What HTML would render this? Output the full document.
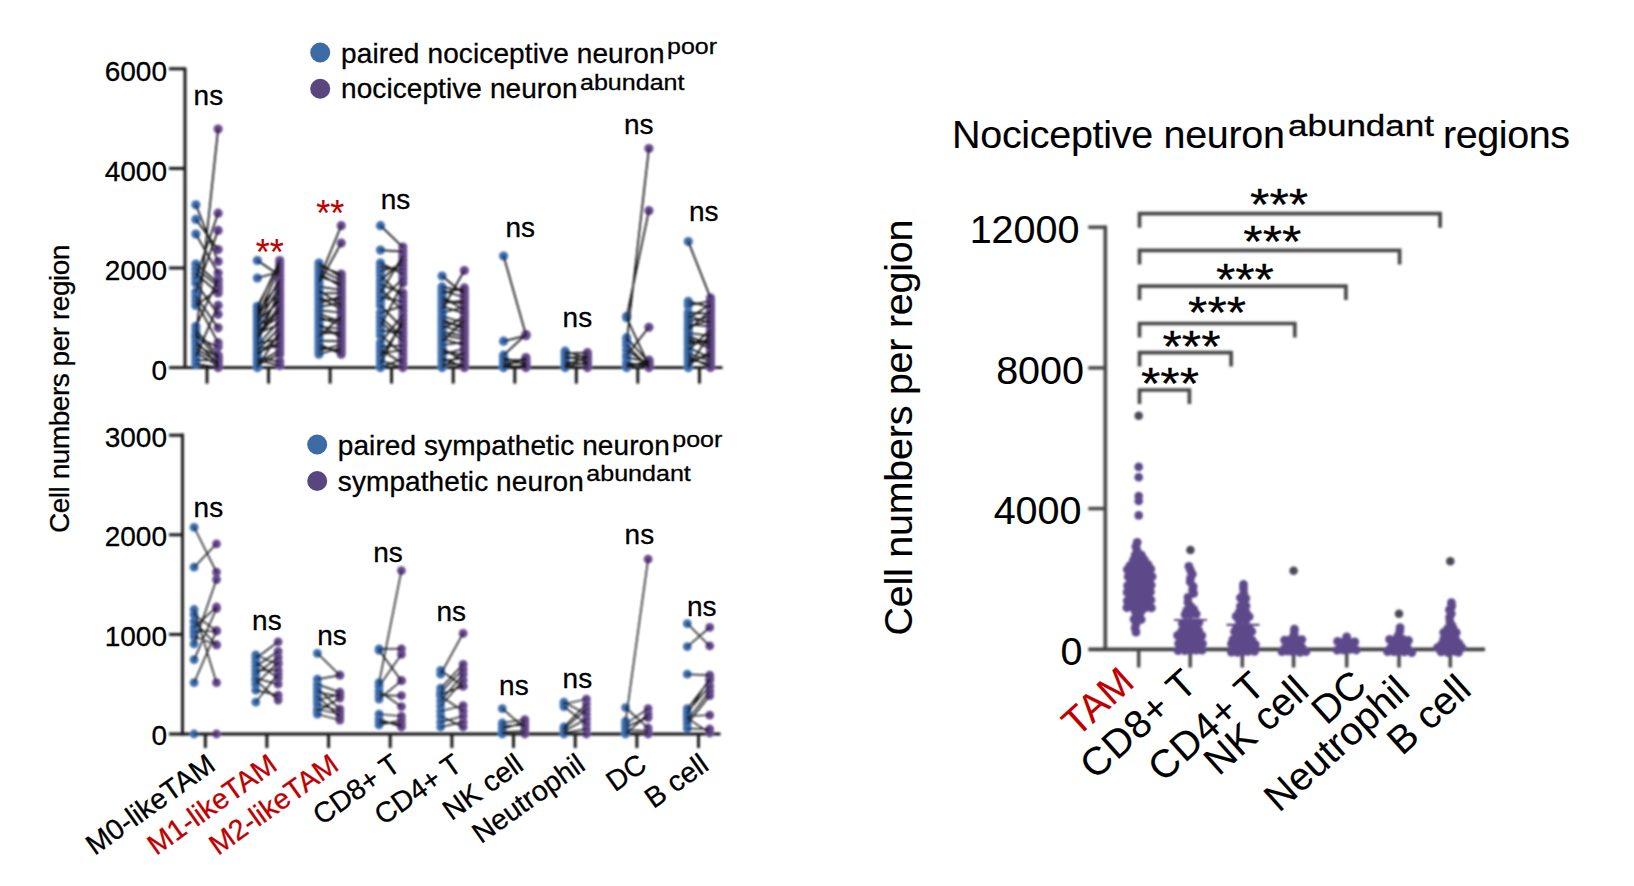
<!DOCTYPE html>
<html lang="en"><head><meta charset="utf-8"><title>Cell numbers per region</title>
<style>
html,body{margin:0;padding:0;background:#fff}
body{width:1634px;height:886px;overflow:hidden;font-family:"Liberation Sans",Arial,sans-serif}
svg{display:block}
</style></head><body>
<svg width="1634" height="886" viewBox="0 0 1634 886" font-family="Liberation Sans, Arial, sans-serif">
<defs><filter id="soft" x="0" y="0" width="100%" height="100%" filterUnits="userSpaceOnUse"><feGaussianBlur stdDeviation="0.8"/></filter></defs>
<rect width="1634" height="886" fill="#fff"/>
<g id="plots" filter="url(#soft)">
<path d="M185 67.5V369.1" stroke="#141414" stroke-width="2.9" fill="none"/>
<path d="M169 367.6H722.5" stroke="#141414" stroke-width="2.9" fill="none"/>
<path d="M169 268.0H185" stroke="#141414" stroke-width="2.9"/>
<path d="M169 168.4H185" stroke="#141414" stroke-width="2.9"/>
<path d="M169 68.8H185" stroke="#141414" stroke-width="2.9"/>
<path d="M207.0 367.6V383.6" stroke="#141414" stroke-width="2.9"/>
<path d="M268.6 367.6V383.6" stroke="#141414" stroke-width="2.9"/>
<path d="M330.1 367.6V383.6" stroke="#141414" stroke-width="2.9"/>
<path d="M391.6 367.6V383.6" stroke="#141414" stroke-width="2.9"/>
<path d="M453.2 367.6V383.6" stroke="#141414" stroke-width="2.9"/>
<path d="M514.8 367.6V383.6" stroke="#141414" stroke-width="2.9"/>
<path d="M576.3 367.6V383.6" stroke="#141414" stroke-width="2.9"/>
<path d="M637.8 367.6V383.6" stroke="#141414" stroke-width="2.9"/>
<path d="M699.4 367.6V383.6" stroke="#141414" stroke-width="2.9"/>
<circle cx="195.9" cy="204.8" r="4.6" fill="#3f6fb0"/>
<circle cx="218.1" cy="261.5" r="4.6" fill="#674c8f"/>
<circle cx="195.9" cy="219.4" r="4.6" fill="#3f6fb0"/>
<circle cx="218.1" cy="249.6" r="4.6" fill="#674c8f"/>
<circle cx="195.9" cy="234.1" r="4.6" fill="#3f6fb0"/>
<circle cx="218.1" cy="273.0" r="4.6" fill="#674c8f"/>
<circle cx="195.9" cy="264.0" r="4.6" fill="#3f6fb0"/>
<circle cx="218.1" cy="282.8" r="4.6" fill="#674c8f"/>
<circle cx="195.9" cy="268.7" r="4.6" fill="#3f6fb0"/>
<circle cx="218.1" cy="286.2" r="4.6" fill="#674c8f"/>
<circle cx="195.9" cy="273.5" r="4.6" fill="#3f6fb0"/>
<circle cx="218.1" cy="292.9" r="4.6" fill="#674c8f"/>
<circle cx="195.9" cy="278.2" r="4.6" fill="#3f6fb0"/>
<circle cx="218.1" cy="213.2" r="4.6" fill="#674c8f"/>
<circle cx="195.9" cy="282.9" r="4.6" fill="#3f6fb0"/>
<circle cx="218.1" cy="314.3" r="4.6" fill="#674c8f"/>
<circle cx="195.9" cy="291.9" r="4.6" fill="#3f6fb0"/>
<circle cx="218.1" cy="230.4" r="4.6" fill="#674c8f"/>
<circle cx="195.9" cy="296.4" r="4.6" fill="#3f6fb0"/>
<circle cx="218.1" cy="327.8" r="4.6" fill="#674c8f"/>
<circle cx="195.9" cy="300.9" r="4.6" fill="#3f6fb0"/>
<circle cx="218.1" cy="342.7" r="4.6" fill="#674c8f"/>
<circle cx="195.9" cy="305.4" r="4.6" fill="#3f6fb0"/>
<circle cx="218.1" cy="289.5" r="4.6" fill="#674c8f"/>
<circle cx="195.9" cy="326.3" r="4.6" fill="#3f6fb0"/>
<circle cx="218.1" cy="279.5" r="4.6" fill="#674c8f"/>
<circle cx="195.9" cy="330.0" r="4.6" fill="#3f6fb0"/>
<circle cx="218.1" cy="355.2" r="4.6" fill="#674c8f"/>
<circle cx="195.9" cy="333.8" r="4.6" fill="#3f6fb0"/>
<circle cx="218.1" cy="358.7" r="4.6" fill="#674c8f"/>
<circle cx="195.9" cy="337.5" r="4.6" fill="#3f6fb0"/>
<circle cx="218.1" cy="346.7" r="4.6" fill="#674c8f"/>
<circle cx="195.9" cy="341.3" r="4.6" fill="#3f6fb0"/>
<circle cx="218.1" cy="364.0" r="4.6" fill="#674c8f"/>
<circle cx="195.9" cy="345.1" r="4.6" fill="#3f6fb0"/>
<circle cx="218.1" cy="356.9" r="4.6" fill="#674c8f"/>
<circle cx="195.9" cy="348.8" r="4.6" fill="#3f6fb0"/>
<circle cx="218.1" cy="362.3" r="4.6" fill="#674c8f"/>
<circle cx="195.9" cy="352.6" r="4.6" fill="#3f6fb0"/>
<circle cx="218.1" cy="365.8" r="4.6" fill="#674c8f"/>
<circle cx="195.9" cy="356.3" r="4.6" fill="#3f6fb0"/>
<circle cx="218.1" cy="305.4" r="4.6" fill="#674c8f"/>
<circle cx="195.9" cy="360.1" r="4.6" fill="#3f6fb0"/>
<circle cx="218.1" cy="360.5" r="4.6" fill="#674c8f"/>
<circle cx="195.9" cy="363.8" r="4.6" fill="#3f6fb0"/>
<circle cx="218.1" cy="367.6" r="4.6" fill="#674c8f"/>
<circle cx="195.9" cy="336.7" r="4.6" fill="#3f6fb0"/>
<circle cx="218.1" cy="129.1" r="4.6" fill="#674c8f"/>
<circle cx="257.4" cy="260.5" r="4.6" fill="#3f6fb0"/>
<circle cx="279.7" cy="275.5" r="4.6" fill="#674c8f"/>
<circle cx="257.4" cy="278.0" r="4.6" fill="#3f6fb0"/>
<circle cx="279.7" cy="271.8" r="4.6" fill="#674c8f"/>
<circle cx="257.4" cy="306.3" r="4.6" fill="#3f6fb0"/>
<circle cx="279.7" cy="264.3" r="4.6" fill="#674c8f"/>
<circle cx="257.4" cy="308.8" r="4.6" fill="#3f6fb0"/>
<circle cx="279.7" cy="260.5" r="4.6" fill="#674c8f"/>
<circle cx="257.4" cy="311.2" r="4.6" fill="#3f6fb0"/>
<circle cx="279.7" cy="283.0" r="4.6" fill="#674c8f"/>
<circle cx="257.4" cy="313.7" r="4.6" fill="#3f6fb0"/>
<circle cx="279.7" cy="294.2" r="4.6" fill="#674c8f"/>
<circle cx="257.4" cy="316.1" r="4.6" fill="#3f6fb0"/>
<circle cx="279.7" cy="268.0" r="4.6" fill="#674c8f"/>
<circle cx="257.4" cy="318.6" r="4.6" fill="#3f6fb0"/>
<circle cx="279.7" cy="279.3" r="4.6" fill="#674c8f"/>
<circle cx="257.4" cy="321.0" r="4.6" fill="#3f6fb0"/>
<circle cx="279.7" cy="301.7" r="4.6" fill="#674c8f"/>
<circle cx="257.4" cy="323.5" r="4.6" fill="#3f6fb0"/>
<circle cx="279.7" cy="286.7" r="4.6" fill="#674c8f"/>
<circle cx="257.4" cy="325.9" r="4.6" fill="#3f6fb0"/>
<circle cx="279.7" cy="313.0" r="4.6" fill="#674c8f"/>
<circle cx="257.4" cy="328.4" r="4.6" fill="#3f6fb0"/>
<circle cx="279.7" cy="298.0" r="4.6" fill="#674c8f"/>
<circle cx="257.4" cy="330.8" r="4.6" fill="#3f6fb0"/>
<circle cx="279.7" cy="316.7" r="4.6" fill="#674c8f"/>
<circle cx="257.4" cy="333.3" r="4.6" fill="#3f6fb0"/>
<circle cx="279.7" cy="324.2" r="4.6" fill="#674c8f"/>
<circle cx="257.4" cy="335.7" r="4.6" fill="#3f6fb0"/>
<circle cx="279.7" cy="305.5" r="4.6" fill="#674c8f"/>
<circle cx="257.4" cy="338.2" r="4.6" fill="#3f6fb0"/>
<circle cx="279.7" cy="309.2" r="4.6" fill="#674c8f"/>
<circle cx="257.4" cy="340.6" r="4.6" fill="#3f6fb0"/>
<circle cx="279.7" cy="290.5" r="4.6" fill="#674c8f"/>
<circle cx="257.4" cy="343.1" r="4.6" fill="#3f6fb0"/>
<circle cx="279.7" cy="339.2" r="4.6" fill="#674c8f"/>
<circle cx="257.4" cy="345.5" r="4.6" fill="#3f6fb0"/>
<circle cx="279.7" cy="320.4" r="4.6" fill="#674c8f"/>
<circle cx="257.4" cy="348.0" r="4.6" fill="#3f6fb0"/>
<circle cx="279.7" cy="346.7" r="4.6" fill="#674c8f"/>
<circle cx="257.4" cy="350.4" r="4.6" fill="#3f6fb0"/>
<circle cx="279.7" cy="327.9" r="4.6" fill="#674c8f"/>
<circle cx="257.4" cy="352.9" r="4.6" fill="#3f6fb0"/>
<circle cx="279.7" cy="342.9" r="4.6" fill="#674c8f"/>
<circle cx="257.4" cy="355.3" r="4.6" fill="#3f6fb0"/>
<circle cx="279.7" cy="335.4" r="4.6" fill="#674c8f"/>
<circle cx="257.4" cy="357.8" r="4.6" fill="#3f6fb0"/>
<circle cx="279.7" cy="361.6" r="4.6" fill="#674c8f"/>
<circle cx="257.4" cy="360.2" r="4.6" fill="#3f6fb0"/>
<circle cx="279.7" cy="365.6" r="4.6" fill="#674c8f"/>
<circle cx="257.4" cy="362.7" r="4.6" fill="#3f6fb0"/>
<circle cx="279.7" cy="350.4" r="4.6" fill="#674c8f"/>
<circle cx="257.4" cy="365.1" r="4.6" fill="#3f6fb0"/>
<circle cx="279.7" cy="354.2" r="4.6" fill="#674c8f"/>
<circle cx="257.4" cy="367.6" r="4.6" fill="#3f6fb0"/>
<circle cx="279.7" cy="331.7" r="4.6" fill="#674c8f"/>
<circle cx="319.0" cy="263.0" r="4.6" fill="#3f6fb0"/>
<circle cx="341.2" cy="277.2" r="4.6" fill="#674c8f"/>
<circle cx="319.0" cy="266.4" r="4.6" fill="#3f6fb0"/>
<circle cx="341.2" cy="274.0" r="4.6" fill="#674c8f"/>
<circle cx="319.0" cy="269.8" r="4.6" fill="#3f6fb0"/>
<circle cx="341.2" cy="280.4" r="4.6" fill="#674c8f"/>
<circle cx="319.0" cy="273.1" r="4.6" fill="#3f6fb0"/>
<circle cx="341.2" cy="286.8" r="4.6" fill="#674c8f"/>
<circle cx="319.0" cy="276.5" r="4.6" fill="#3f6fb0"/>
<circle cx="341.2" cy="283.6" r="4.6" fill="#674c8f"/>
<circle cx="319.0" cy="279.9" r="4.6" fill="#3f6fb0"/>
<circle cx="341.2" cy="225.7" r="4.6" fill="#674c8f"/>
<circle cx="319.0" cy="283.3" r="4.6" fill="#3f6fb0"/>
<circle cx="341.2" cy="243.1" r="4.6" fill="#674c8f"/>
<circle cx="319.0" cy="286.6" r="4.6" fill="#3f6fb0"/>
<circle cx="341.2" cy="290.0" r="4.6" fill="#674c8f"/>
<circle cx="319.0" cy="290.0" r="4.6" fill="#3f6fb0"/>
<circle cx="341.2" cy="306.0" r="4.6" fill="#674c8f"/>
<circle cx="319.0" cy="293.4" r="4.6" fill="#3f6fb0"/>
<circle cx="341.2" cy="293.2" r="4.6" fill="#674c8f"/>
<circle cx="319.0" cy="296.8" r="4.6" fill="#3f6fb0"/>
<circle cx="341.2" cy="309.3" r="4.6" fill="#674c8f"/>
<circle cx="319.0" cy="300.1" r="4.6" fill="#3f6fb0"/>
<circle cx="341.2" cy="299.6" r="4.6" fill="#674c8f"/>
<circle cx="319.0" cy="303.5" r="4.6" fill="#3f6fb0"/>
<circle cx="341.2" cy="296.4" r="4.6" fill="#674c8f"/>
<circle cx="319.0" cy="306.9" r="4.6" fill="#3f6fb0"/>
<circle cx="341.2" cy="302.8" r="4.6" fill="#674c8f"/>
<circle cx="319.0" cy="310.3" r="4.6" fill="#3f6fb0"/>
<circle cx="341.2" cy="312.5" r="4.6" fill="#674c8f"/>
<circle cx="319.0" cy="313.7" r="4.6" fill="#3f6fb0"/>
<circle cx="341.2" cy="322.1" r="4.6" fill="#674c8f"/>
<circle cx="319.0" cy="317.0" r="4.6" fill="#3f6fb0"/>
<circle cx="341.2" cy="325.3" r="4.6" fill="#674c8f"/>
<circle cx="319.0" cy="320.4" r="4.6" fill="#3f6fb0"/>
<circle cx="341.2" cy="318.9" r="4.6" fill="#674c8f"/>
<circle cx="319.0" cy="323.8" r="4.6" fill="#3f6fb0"/>
<circle cx="341.2" cy="338.1" r="4.6" fill="#674c8f"/>
<circle cx="319.0" cy="327.2" r="4.6" fill="#3f6fb0"/>
<circle cx="341.2" cy="328.5" r="4.6" fill="#674c8f"/>
<circle cx="319.0" cy="330.5" r="4.6" fill="#3f6fb0"/>
<circle cx="341.2" cy="334.9" r="4.6" fill="#674c8f"/>
<circle cx="319.0" cy="333.9" r="4.6" fill="#3f6fb0"/>
<circle cx="341.2" cy="331.7" r="4.6" fill="#674c8f"/>
<circle cx="319.0" cy="337.3" r="4.6" fill="#3f6fb0"/>
<circle cx="341.2" cy="315.7" r="4.6" fill="#674c8f"/>
<circle cx="319.0" cy="340.7" r="4.6" fill="#3f6fb0"/>
<circle cx="341.2" cy="341.3" r="4.6" fill="#674c8f"/>
<circle cx="319.0" cy="344.0" r="4.6" fill="#3f6fb0"/>
<circle cx="341.2" cy="354.2" r="4.6" fill="#674c8f"/>
<circle cx="319.0" cy="347.4" r="4.6" fill="#3f6fb0"/>
<circle cx="341.2" cy="350.9" r="4.6" fill="#674c8f"/>
<circle cx="319.0" cy="350.8" r="4.6" fill="#3f6fb0"/>
<circle cx="341.2" cy="344.5" r="4.6" fill="#674c8f"/>
<circle cx="319.0" cy="354.2" r="4.6" fill="#3f6fb0"/>
<circle cx="341.2" cy="347.7" r="4.6" fill="#674c8f"/>
<circle cx="380.5" cy="225.7" r="4.6" fill="#3f6fb0"/>
<circle cx="402.8" cy="247.1" r="4.6" fill="#674c8f"/>
<circle cx="380.5" cy="250.1" r="4.6" fill="#3f6fb0"/>
<circle cx="402.8" cy="251.6" r="4.6" fill="#674c8f"/>
<circle cx="380.5" cy="263.0" r="4.6" fill="#3f6fb0"/>
<circle cx="402.8" cy="274.0" r="4.6" fill="#674c8f"/>
<circle cx="380.5" cy="267.2" r="4.6" fill="#3f6fb0"/>
<circle cx="402.8" cy="269.5" r="4.6" fill="#674c8f"/>
<circle cx="380.5" cy="271.3" r="4.6" fill="#3f6fb0"/>
<circle cx="402.8" cy="265.0" r="4.6" fill="#674c8f"/>
<circle cx="380.5" cy="275.5" r="4.6" fill="#3f6fb0"/>
<circle cx="402.8" cy="297.3" r="4.6" fill="#674c8f"/>
<circle cx="380.5" cy="280.5" r="4.6" fill="#3f6fb0"/>
<circle cx="402.8" cy="260.5" r="4.6" fill="#674c8f"/>
<circle cx="380.5" cy="284.6" r="4.6" fill="#3f6fb0"/>
<circle cx="402.8" cy="292.9" r="4.6" fill="#674c8f"/>
<circle cx="380.5" cy="288.8" r="4.6" fill="#3f6fb0"/>
<circle cx="402.8" cy="310.5" r="4.6" fill="#674c8f"/>
<circle cx="380.5" cy="292.9" r="4.6" fill="#3f6fb0"/>
<circle cx="402.8" cy="256.0" r="4.6" fill="#674c8f"/>
<circle cx="380.5" cy="297.1" r="4.6" fill="#3f6fb0"/>
<circle cx="402.8" cy="301.7" r="4.6" fill="#674c8f"/>
<circle cx="380.5" cy="301.2" r="4.6" fill="#3f6fb0"/>
<circle cx="402.8" cy="278.5" r="4.6" fill="#674c8f"/>
<circle cx="380.5" cy="305.4" r="4.6" fill="#3f6fb0"/>
<circle cx="402.8" cy="328.1" r="4.6" fill="#674c8f"/>
<circle cx="380.5" cy="312.8" r="4.6" fill="#3f6fb0"/>
<circle cx="402.8" cy="306.1" r="4.6" fill="#674c8f"/>
<circle cx="380.5" cy="317.3" r="4.6" fill="#3f6fb0"/>
<circle cx="402.8" cy="336.8" r="4.6" fill="#674c8f"/>
<circle cx="380.5" cy="321.8" r="4.6" fill="#3f6fb0"/>
<circle cx="402.8" cy="341.2" r="4.6" fill="#674c8f"/>
<circle cx="380.5" cy="326.3" r="4.6" fill="#3f6fb0"/>
<circle cx="402.8" cy="282.9" r="4.6" fill="#674c8f"/>
<circle cx="380.5" cy="330.7" r="4.6" fill="#3f6fb0"/>
<circle cx="402.8" cy="332.4" r="4.6" fill="#674c8f"/>
<circle cx="380.5" cy="335.2" r="4.6" fill="#3f6fb0"/>
<circle cx="402.8" cy="354.4" r="4.6" fill="#674c8f"/>
<circle cx="380.5" cy="342.7" r="4.6" fill="#3f6fb0"/>
<circle cx="402.8" cy="314.9" r="4.6" fill="#674c8f"/>
<circle cx="380.5" cy="346.3" r="4.6" fill="#3f6fb0"/>
<circle cx="402.8" cy="345.6" r="4.6" fill="#674c8f"/>
<circle cx="380.5" cy="349.8" r="4.6" fill="#3f6fb0"/>
<circle cx="402.8" cy="363.2" r="4.6" fill="#674c8f"/>
<circle cx="380.5" cy="353.4" r="4.6" fill="#3f6fb0"/>
<circle cx="402.8" cy="350.0" r="4.6" fill="#674c8f"/>
<circle cx="380.5" cy="356.9" r="4.6" fill="#3f6fb0"/>
<circle cx="402.8" cy="323.7" r="4.6" fill="#674c8f"/>
<circle cx="380.5" cy="360.5" r="4.6" fill="#3f6fb0"/>
<circle cx="402.8" cy="367.6" r="4.6" fill="#674c8f"/>
<circle cx="380.5" cy="364.0" r="4.6" fill="#3f6fb0"/>
<circle cx="402.8" cy="319.3" r="4.6" fill="#674c8f"/>
<circle cx="380.5" cy="367.6" r="4.6" fill="#3f6fb0"/>
<circle cx="402.8" cy="358.8" r="4.6" fill="#674c8f"/>
<circle cx="442.1" cy="276.0" r="4.6" fill="#3f6fb0"/>
<circle cx="464.3" cy="294.3" r="4.6" fill="#674c8f"/>
<circle cx="442.1" cy="286.9" r="4.6" fill="#3f6fb0"/>
<circle cx="464.3" cy="291.1" r="4.6" fill="#674c8f"/>
<circle cx="442.1" cy="290.2" r="4.6" fill="#3f6fb0"/>
<circle cx="464.3" cy="297.5" r="4.6" fill="#674c8f"/>
<circle cx="442.1" cy="293.4" r="4.6" fill="#3f6fb0"/>
<circle cx="464.3" cy="287.9" r="4.6" fill="#674c8f"/>
<circle cx="442.1" cy="296.6" r="4.6" fill="#3f6fb0"/>
<circle cx="464.3" cy="310.2" r="4.6" fill="#674c8f"/>
<circle cx="442.1" cy="299.8" r="4.6" fill="#3f6fb0"/>
<circle cx="464.3" cy="303.9" r="4.6" fill="#674c8f"/>
<circle cx="442.1" cy="303.1" r="4.6" fill="#3f6fb0"/>
<circle cx="464.3" cy="300.7" r="4.6" fill="#674c8f"/>
<circle cx="442.1" cy="306.3" r="4.6" fill="#3f6fb0"/>
<circle cx="464.3" cy="313.4" r="4.6" fill="#674c8f"/>
<circle cx="442.1" cy="309.5" r="4.6" fill="#3f6fb0"/>
<circle cx="464.3" cy="270.5" r="4.6" fill="#674c8f"/>
<circle cx="442.1" cy="312.7" r="4.6" fill="#3f6fb0"/>
<circle cx="464.3" cy="307.0" r="4.6" fill="#674c8f"/>
<circle cx="442.1" cy="316.0" r="4.6" fill="#3f6fb0"/>
<circle cx="464.3" cy="323.0" r="4.6" fill="#674c8f"/>
<circle cx="442.1" cy="319.2" r="4.6" fill="#3f6fb0"/>
<circle cx="464.3" cy="329.4" r="4.6" fill="#674c8f"/>
<circle cx="442.1" cy="322.4" r="4.6" fill="#3f6fb0"/>
<circle cx="464.3" cy="326.2" r="4.6" fill="#674c8f"/>
<circle cx="442.1" cy="325.6" r="4.6" fill="#3f6fb0"/>
<circle cx="464.3" cy="332.5" r="4.6" fill="#674c8f"/>
<circle cx="442.1" cy="328.9" r="4.6" fill="#3f6fb0"/>
<circle cx="464.3" cy="316.6" r="4.6" fill="#674c8f"/>
<circle cx="442.1" cy="332.1" r="4.6" fill="#3f6fb0"/>
<circle cx="464.3" cy="335.7" r="4.6" fill="#674c8f"/>
<circle cx="442.1" cy="335.3" r="4.6" fill="#3f6fb0"/>
<circle cx="464.3" cy="338.9" r="4.6" fill="#674c8f"/>
<circle cx="442.1" cy="338.6" r="4.6" fill="#3f6fb0"/>
<circle cx="464.3" cy="345.3" r="4.6" fill="#674c8f"/>
<circle cx="442.1" cy="341.8" r="4.6" fill="#3f6fb0"/>
<circle cx="464.3" cy="319.8" r="4.6" fill="#674c8f"/>
<circle cx="442.1" cy="345.0" r="4.6" fill="#3f6fb0"/>
<circle cx="464.3" cy="342.1" r="4.6" fill="#674c8f"/>
<circle cx="442.1" cy="348.2" r="4.6" fill="#3f6fb0"/>
<circle cx="464.3" cy="361.2" r="4.6" fill="#674c8f"/>
<circle cx="442.1" cy="351.5" r="4.6" fill="#3f6fb0"/>
<circle cx="464.3" cy="354.9" r="4.6" fill="#674c8f"/>
<circle cx="442.1" cy="354.7" r="4.6" fill="#3f6fb0"/>
<circle cx="464.3" cy="348.5" r="4.6" fill="#674c8f"/>
<circle cx="442.1" cy="357.9" r="4.6" fill="#3f6fb0"/>
<circle cx="464.3" cy="367.6" r="4.6" fill="#674c8f"/>
<circle cx="442.1" cy="361.1" r="4.6" fill="#3f6fb0"/>
<circle cx="464.3" cy="358.0" r="4.6" fill="#674c8f"/>
<circle cx="442.1" cy="364.4" r="4.6" fill="#3f6fb0"/>
<circle cx="464.3" cy="364.4" r="4.6" fill="#674c8f"/>
<circle cx="442.1" cy="367.6" r="4.6" fill="#3f6fb0"/>
<circle cx="464.3" cy="351.7" r="4.6" fill="#674c8f"/>
<circle cx="503.6" cy="256.0" r="4.6" fill="#3f6fb0"/>
<circle cx="525.9" cy="334.7" r="4.6" fill="#674c8f"/>
<circle cx="503.6" cy="341.2" r="4.6" fill="#3f6fb0"/>
<circle cx="525.9" cy="335.7" r="4.6" fill="#674c8f"/>
<circle cx="503.6" cy="355.2" r="4.6" fill="#3f6fb0"/>
<circle cx="525.9" cy="334.7" r="4.6" fill="#674c8f"/>
<circle cx="503.6" cy="357.6" r="4.6" fill="#3f6fb0"/>
<circle cx="525.9" cy="364.6" r="4.6" fill="#674c8f"/>
<circle cx="503.6" cy="360.1" r="4.6" fill="#3f6fb0"/>
<circle cx="525.9" cy="360.1" r="4.6" fill="#674c8f"/>
<circle cx="503.6" cy="362.6" r="4.6" fill="#3f6fb0"/>
<circle cx="525.9" cy="362.6" r="4.6" fill="#674c8f"/>
<circle cx="503.6" cy="365.1" r="4.6" fill="#3f6fb0"/>
<circle cx="525.9" cy="367.6" r="4.6" fill="#674c8f"/>
<circle cx="503.6" cy="367.6" r="4.6" fill="#3f6fb0"/>
<circle cx="525.9" cy="365.6" r="4.6" fill="#674c8f"/>
<circle cx="503.6" cy="366.6" r="4.6" fill="#3f6fb0"/>
<circle cx="525.9" cy="357.6" r="4.6" fill="#674c8f"/>
<circle cx="565.2" cy="351.2" r="4.6" fill="#3f6fb0"/>
<circle cx="587.4" cy="358.6" r="4.6" fill="#674c8f"/>
<circle cx="565.2" cy="353.7" r="4.6" fill="#3f6fb0"/>
<circle cx="587.4" cy="352.7" r="4.6" fill="#674c8f"/>
<circle cx="565.2" cy="356.1" r="4.6" fill="#3f6fb0"/>
<circle cx="587.4" cy="361.6" r="4.6" fill="#674c8f"/>
<circle cx="565.2" cy="358.6" r="4.6" fill="#3f6fb0"/>
<circle cx="587.4" cy="355.6" r="4.6" fill="#674c8f"/>
<circle cx="565.2" cy="361.6" r="4.6" fill="#3f6fb0"/>
<circle cx="587.4" cy="364.6" r="4.6" fill="#674c8f"/>
<circle cx="565.2" cy="364.6" r="4.6" fill="#3f6fb0"/>
<circle cx="587.4" cy="357.6" r="4.6" fill="#674c8f"/>
<circle cx="565.2" cy="367.6" r="4.6" fill="#3f6fb0"/>
<circle cx="587.4" cy="367.6" r="4.6" fill="#674c8f"/>
<circle cx="565.2" cy="366.1" r="4.6" fill="#3f6fb0"/>
<circle cx="587.4" cy="362.6" r="4.6" fill="#674c8f"/>
<circle cx="626.7" cy="316.3" r="4.6" fill="#3f6fb0"/>
<circle cx="648.9" cy="210.7" r="4.6" fill="#674c8f"/>
<circle cx="626.7" cy="341.7" r="4.6" fill="#3f6fb0"/>
<circle cx="648.9" cy="148.5" r="4.6" fill="#674c8f"/>
<circle cx="626.7" cy="317.8" r="4.6" fill="#3f6fb0"/>
<circle cx="648.9" cy="365.6" r="4.6" fill="#674c8f"/>
<circle cx="626.7" cy="355.2" r="4.6" fill="#3f6fb0"/>
<circle cx="648.9" cy="327.3" r="4.6" fill="#674c8f"/>
<circle cx="626.7" cy="337.7" r="4.6" fill="#3f6fb0"/>
<circle cx="648.9" cy="362.6" r="4.6" fill="#674c8f"/>
<circle cx="626.7" cy="345.2" r="4.6" fill="#3f6fb0"/>
<circle cx="648.9" cy="367.6" r="4.6" fill="#674c8f"/>
<circle cx="626.7" cy="350.2" r="4.6" fill="#3f6fb0"/>
<circle cx="648.9" cy="364.6" r="4.6" fill="#674c8f"/>
<circle cx="626.7" cy="357.6" r="4.6" fill="#3f6fb0"/>
<circle cx="648.9" cy="361.6" r="4.6" fill="#674c8f"/>
<circle cx="626.7" cy="362.6" r="4.6" fill="#3f6fb0"/>
<circle cx="648.9" cy="366.6" r="4.6" fill="#674c8f"/>
<circle cx="626.7" cy="367.6" r="4.6" fill="#3f6fb0"/>
<circle cx="648.9" cy="360.1" r="4.6" fill="#674c8f"/>
<circle cx="626.7" cy="365.1" r="4.6" fill="#3f6fb0"/>
<circle cx="648.9" cy="363.6" r="4.6" fill="#674c8f"/>
<circle cx="688.3" cy="301.4" r="4.6" fill="#3f6fb0"/>
<circle cx="710.5" cy="307.4" r="4.6" fill="#674c8f"/>
<circle cx="688.3" cy="305.4" r="4.6" fill="#3f6fb0"/>
<circle cx="710.5" cy="301.0" r="4.6" fill="#674c8f"/>
<circle cx="688.3" cy="312.8" r="4.6" fill="#3f6fb0"/>
<circle cx="710.5" cy="313.7" r="4.6" fill="#674c8f"/>
<circle cx="688.3" cy="315.7" r="4.6" fill="#3f6fb0"/>
<circle cx="710.5" cy="323.2" r="4.6" fill="#674c8f"/>
<circle cx="688.3" cy="318.6" r="4.6" fill="#3f6fb0"/>
<circle cx="710.5" cy="304.2" r="4.6" fill="#674c8f"/>
<circle cx="688.3" cy="321.5" r="4.6" fill="#3f6fb0"/>
<circle cx="710.5" cy="316.9" r="4.6" fill="#674c8f"/>
<circle cx="688.3" cy="324.4" r="4.6" fill="#3f6fb0"/>
<circle cx="710.5" cy="326.4" r="4.6" fill="#674c8f"/>
<circle cx="688.3" cy="327.2" r="4.6" fill="#3f6fb0"/>
<circle cx="710.5" cy="320.1" r="4.6" fill="#674c8f"/>
<circle cx="688.3" cy="330.1" r="4.6" fill="#3f6fb0"/>
<circle cx="710.5" cy="310.6" r="4.6" fill="#674c8f"/>
<circle cx="688.3" cy="333.0" r="4.6" fill="#3f6fb0"/>
<circle cx="710.5" cy="335.9" r="4.6" fill="#674c8f"/>
<circle cx="688.3" cy="335.9" r="4.6" fill="#3f6fb0"/>
<circle cx="710.5" cy="345.4" r="4.6" fill="#674c8f"/>
<circle cx="688.3" cy="338.8" r="4.6" fill="#3f6fb0"/>
<circle cx="710.5" cy="348.6" r="4.6" fill="#674c8f"/>
<circle cx="688.3" cy="341.7" r="4.6" fill="#3f6fb0"/>
<circle cx="710.5" cy="342.2" r="4.6" fill="#674c8f"/>
<circle cx="688.3" cy="344.5" r="4.6" fill="#3f6fb0"/>
<circle cx="710.5" cy="339.1" r="4.6" fill="#674c8f"/>
<circle cx="688.3" cy="347.4" r="4.6" fill="#3f6fb0"/>
<circle cx="710.5" cy="358.1" r="4.6" fill="#674c8f"/>
<circle cx="688.3" cy="350.3" r="4.6" fill="#3f6fb0"/>
<circle cx="710.5" cy="329.6" r="4.6" fill="#674c8f"/>
<circle cx="688.3" cy="353.2" r="4.6" fill="#3f6fb0"/>
<circle cx="710.5" cy="361.3" r="4.6" fill="#674c8f"/>
<circle cx="688.3" cy="356.1" r="4.6" fill="#3f6fb0"/>
<circle cx="710.5" cy="367.6" r="4.6" fill="#674c8f"/>
<circle cx="688.3" cy="359.0" r="4.6" fill="#3f6fb0"/>
<circle cx="710.5" cy="364.4" r="4.6" fill="#674c8f"/>
<circle cx="688.3" cy="361.8" r="4.6" fill="#3f6fb0"/>
<circle cx="710.5" cy="354.9" r="4.6" fill="#674c8f"/>
<circle cx="688.3" cy="364.7" r="4.6" fill="#3f6fb0"/>
<circle cx="710.5" cy="351.8" r="4.6" fill="#674c8f"/>
<circle cx="688.3" cy="367.6" r="4.6" fill="#3f6fb0"/>
<circle cx="710.5" cy="332.7" r="4.6" fill="#674c8f"/>
<circle cx="688.3" cy="241.6" r="4.6" fill="#3f6fb0"/>
<circle cx="710.5" cy="297.9" r="4.6" fill="#674c8f"/>
<path d="M195.9 204.8L218.1 261.5M195.9 219.4L218.1 249.6M195.9 234.1L218.1 273.0M195.9 264.0L218.1 282.8M195.9 268.7L218.1 286.2M195.9 273.5L218.1 292.9M195.9 278.2L218.1 213.2M195.9 282.9L218.1 314.3M195.9 291.9L218.1 230.4M195.9 296.4L218.1 327.8M195.9 300.9L218.1 342.7M195.9 305.4L218.1 289.5M195.9 326.3L218.1 279.5M195.9 330.0L218.1 355.2M195.9 333.8L218.1 358.7M195.9 337.5L218.1 346.7M195.9 341.3L218.1 364.0M195.9 345.1L218.1 356.9M195.9 348.8L218.1 362.3M195.9 352.6L218.1 365.8M195.9 356.3L218.1 305.4M195.9 360.1L218.1 360.5M195.9 363.8L218.1 367.6M195.9 336.7L218.1 129.1M257.4 260.5L279.7 275.5M257.4 278.0L279.7 271.8M257.4 306.3L279.7 264.3M257.4 308.8L279.7 260.5M257.4 311.2L279.7 283.0M257.4 313.7L279.7 294.2M257.4 316.1L279.7 268.0M257.4 318.6L279.7 279.3M257.4 321.0L279.7 301.7M257.4 323.5L279.7 286.7M257.4 325.9L279.7 313.0M257.4 328.4L279.7 298.0M257.4 330.8L279.7 316.7M257.4 333.3L279.7 324.2M257.4 335.7L279.7 305.5M257.4 338.2L279.7 309.2M257.4 340.6L279.7 290.5M257.4 343.1L279.7 339.2M257.4 345.5L279.7 320.4M257.4 348.0L279.7 346.7M257.4 350.4L279.7 327.9M257.4 352.9L279.7 342.9M257.4 355.3L279.7 335.4M257.4 357.8L279.7 361.6M257.4 360.2L279.7 365.6M257.4 362.7L279.7 350.4M257.4 365.1L279.7 354.2M257.4 367.6L279.7 331.7M319.0 263.0L341.2 277.2M319.0 266.4L341.2 274.0M319.0 269.8L341.2 280.4M319.0 273.1L341.2 286.8M319.0 276.5L341.2 283.6M319.0 279.9L341.2 225.7M319.0 283.3L341.2 243.1M319.0 286.6L341.2 290.0M319.0 290.0L341.2 306.0M319.0 293.4L341.2 293.2M319.0 296.8L341.2 309.3M319.0 300.1L341.2 299.6M319.0 303.5L341.2 296.4M319.0 306.9L341.2 302.8M319.0 310.3L341.2 312.5M319.0 313.7L341.2 322.1M319.0 317.0L341.2 325.3M319.0 320.4L341.2 318.9M319.0 323.8L341.2 338.1M319.0 327.2L341.2 328.5M319.0 330.5L341.2 334.9M319.0 333.9L341.2 331.7M319.0 337.3L341.2 315.7M319.0 340.7L341.2 341.3M319.0 344.0L341.2 354.2M319.0 347.4L341.2 350.9M319.0 350.8L341.2 344.5M319.0 354.2L341.2 347.7M380.5 225.7L402.8 247.1M380.5 250.1L402.8 251.6M380.5 263.0L402.8 274.0M380.5 267.2L402.8 269.5M380.5 271.3L402.8 265.0M380.5 275.5L402.8 297.3M380.5 280.5L402.8 260.5M380.5 284.6L402.8 292.9M380.5 288.8L402.8 310.5M380.5 292.9L402.8 256.0M380.5 297.1L402.8 301.7M380.5 301.2L402.8 278.5M380.5 305.4L402.8 328.1M380.5 312.8L402.8 306.1M380.5 317.3L402.8 336.8M380.5 321.8L402.8 341.2M380.5 326.3L402.8 282.9M380.5 330.7L402.8 332.4M380.5 335.2L402.8 354.4M380.5 342.7L402.8 314.9M380.5 346.3L402.8 345.6M380.5 349.8L402.8 363.2M380.5 353.4L402.8 350.0M380.5 356.9L402.8 323.7M380.5 360.5L402.8 367.6M380.5 364.0L402.8 319.3M380.5 367.6L402.8 358.8M442.1 276.0L464.3 294.3M442.1 286.9L464.3 291.1M442.1 290.2L464.3 297.5M442.1 293.4L464.3 287.9M442.1 296.6L464.3 310.2M442.1 299.8L464.3 303.9M442.1 303.1L464.3 300.7M442.1 306.3L464.3 313.4M442.1 309.5L464.3 270.5M442.1 312.7L464.3 307.0M442.1 316.0L464.3 323.0M442.1 319.2L464.3 329.4M442.1 322.4L464.3 326.2M442.1 325.6L464.3 332.5M442.1 328.9L464.3 316.6M442.1 332.1L464.3 335.7M442.1 335.3L464.3 338.9M442.1 338.6L464.3 345.3M442.1 341.8L464.3 319.8M442.1 345.0L464.3 342.1M442.1 348.2L464.3 361.2M442.1 351.5L464.3 354.9M442.1 354.7L464.3 348.5M442.1 357.9L464.3 367.6M442.1 361.1L464.3 358.0M442.1 364.4L464.3 364.4M442.1 367.6L464.3 351.7M503.6 256.0L525.9 334.7M503.6 341.2L525.9 335.7M503.6 355.2L525.9 334.7M503.6 357.6L525.9 364.6M503.6 360.1L525.9 360.1M503.6 362.6L525.9 362.6M503.6 365.1L525.9 367.6M503.6 367.6L525.9 365.6M503.6 366.6L525.9 357.6M565.2 351.2L587.4 358.6M565.2 353.7L587.4 352.7M565.2 356.1L587.4 361.6M565.2 358.6L587.4 355.6M565.2 361.6L587.4 364.6M565.2 364.6L587.4 357.6M565.2 367.6L587.4 367.6M565.2 366.1L587.4 362.6M626.7 316.3L648.9 210.7M626.7 341.7L648.9 148.5M626.7 317.8L648.9 365.6M626.7 355.2L648.9 327.3M626.7 337.7L648.9 362.6M626.7 345.2L648.9 367.6M626.7 350.2L648.9 364.6M626.7 357.6L648.9 361.6M626.7 362.6L648.9 366.6M626.7 367.6L648.9 360.1M626.7 365.1L648.9 363.6M688.3 301.4L710.5 307.4M688.3 305.4L710.5 301.0M688.3 312.8L710.5 313.7M688.3 315.7L710.5 323.2M688.3 318.6L710.5 304.2M688.3 321.5L710.5 316.9M688.3 324.4L710.5 326.4M688.3 327.2L710.5 320.1M688.3 330.1L710.5 310.6M688.3 333.0L710.5 335.9M688.3 335.9L710.5 345.4M688.3 338.8L710.5 348.6M688.3 341.7L710.5 342.2M688.3 344.5L710.5 339.1M688.3 347.4L710.5 358.1M688.3 350.3L710.5 329.6M688.3 353.2L710.5 361.3M688.3 356.1L710.5 367.6M688.3 359.0L710.5 364.4M688.3 361.8L710.5 354.9M688.3 364.7L710.5 351.8M688.3 367.6L710.5 332.7M688.3 241.6L710.5 297.9" stroke="#141414" stroke-width="1.7" fill="none" stroke-linecap="round"/>
<path d="M182.5 433.6V735.5" stroke="#141414" stroke-width="2.9" fill="none"/>
<path d="M169 734H720.5" stroke="#141414" stroke-width="2.9" fill="none"/>
<path d="M169 634.4H182.5" stroke="#141414" stroke-width="2.9"/>
<path d="M169 534.8H182.5" stroke="#141414" stroke-width="2.9"/>
<path d="M169 435.2H182.5" stroke="#141414" stroke-width="2.9"/>
<path d="M205.3 734V748" stroke="#141414" stroke-width="2.9"/>
<path d="M266.9 734V748" stroke="#141414" stroke-width="2.9"/>
<path d="M328.6 734V748" stroke="#141414" stroke-width="2.9"/>
<path d="M390.2 734V748" stroke="#141414" stroke-width="2.9"/>
<path d="M451.9 734V748" stroke="#141414" stroke-width="2.9"/>
<path d="M513.5 734V748" stroke="#141414" stroke-width="2.9"/>
<path d="M575.2 734V748" stroke="#141414" stroke-width="2.9"/>
<path d="M636.9 734V748" stroke="#141414" stroke-width="2.9"/>
<path d="M698.5 734V748" stroke="#141414" stroke-width="2.9"/>
<circle cx="194.1" cy="527.3" r="4.4" fill="#3f6fb0"/>
<circle cx="216.5" cy="572.1" r="4.4" fill="#674c8f"/>
<circle cx="194.1" cy="567.2" r="4.4" fill="#3f6fb0"/>
<circle cx="216.5" cy="543.8" r="4.4" fill="#674c8f"/>
<circle cx="194.1" cy="609.5" r="4.4" fill="#3f6fb0"/>
<circle cx="216.5" cy="682.7" r="4.4" fill="#674c8f"/>
<circle cx="194.1" cy="614.5" r="4.4" fill="#3f6fb0"/>
<circle cx="216.5" cy="630.9" r="4.4" fill="#674c8f"/>
<circle cx="194.1" cy="621.5" r="4.4" fill="#3f6fb0"/>
<circle cx="216.5" cy="644.9" r="4.4" fill="#674c8f"/>
<circle cx="194.1" cy="627.4" r="4.4" fill="#3f6fb0"/>
<circle cx="216.5" cy="607.0" r="4.4" fill="#674c8f"/>
<circle cx="194.1" cy="631.9" r="4.4" fill="#3f6fb0"/>
<circle cx="216.5" cy="630.9" r="4.4" fill="#674c8f"/>
<circle cx="194.1" cy="643.9" r="4.4" fill="#3f6fb0"/>
<circle cx="216.5" cy="579.6" r="4.4" fill="#674c8f"/>
<circle cx="194.1" cy="659.6" r="4.4" fill="#3f6fb0"/>
<circle cx="216.5" cy="608.5" r="4.4" fill="#674c8f"/>
<circle cx="194.1" cy="682.7" r="4.4" fill="#3f6fb0"/>
<circle cx="216.5" cy="630.9" r="4.4" fill="#674c8f"/>
<circle cx="194.1" cy="734.0" r="4.4" fill="#3f6fb0"/>
<circle cx="216.5" cy="734.0" r="4.4" fill="#674c8f"/>
<circle cx="194.1" cy="636.4" r="4.4" fill="#3f6fb0"/>
<circle cx="216.5" cy="644.9" r="4.4" fill="#674c8f"/>
<circle cx="255.8" cy="654.8" r="4.4" fill="#3f6fb0"/>
<circle cx="278.1" cy="664.3" r="4.4" fill="#674c8f"/>
<circle cx="255.8" cy="658.3" r="4.4" fill="#3f6fb0"/>
<circle cx="278.1" cy="641.9" r="4.4" fill="#674c8f"/>
<circle cx="255.8" cy="662.3" r="4.4" fill="#3f6fb0"/>
<circle cx="278.1" cy="678.2" r="4.4" fill="#674c8f"/>
<circle cx="255.8" cy="666.3" r="4.4" fill="#3f6fb0"/>
<circle cx="278.1" cy="651.3" r="4.4" fill="#674c8f"/>
<circle cx="255.8" cy="670.3" r="4.4" fill="#3f6fb0"/>
<circle cx="278.1" cy="670.3" r="4.4" fill="#674c8f"/>
<circle cx="255.8" cy="674.2" r="4.4" fill="#3f6fb0"/>
<circle cx="278.1" cy="657.3" r="4.4" fill="#674c8f"/>
<circle cx="255.8" cy="678.2" r="4.4" fill="#3f6fb0"/>
<circle cx="278.1" cy="684.2" r="4.4" fill="#674c8f"/>
<circle cx="255.8" cy="684.2" r="4.4" fill="#3f6fb0"/>
<circle cx="278.1" cy="662.3" r="4.4" fill="#674c8f"/>
<circle cx="255.8" cy="690.2" r="4.4" fill="#3f6fb0"/>
<circle cx="278.1" cy="695.2" r="4.4" fill="#674c8f"/>
<circle cx="255.8" cy="702.1" r="4.4" fill="#3f6fb0"/>
<circle cx="278.1" cy="674.2" r="4.4" fill="#674c8f"/>
<circle cx="255.8" cy="680.2" r="4.4" fill="#3f6fb0"/>
<circle cx="278.1" cy="700.1" r="4.4" fill="#674c8f"/>
<circle cx="317.4" cy="653.3" r="4.4" fill="#3f6fb0"/>
<circle cx="339.8" cy="675.2" r="4.4" fill="#674c8f"/>
<circle cx="317.4" cy="679.2" r="4.4" fill="#3f6fb0"/>
<circle cx="339.8" cy="675.2" r="4.4" fill="#674c8f"/>
<circle cx="317.4" cy="684.2" r="4.4" fill="#3f6fb0"/>
<circle cx="339.8" cy="692.2" r="4.4" fill="#674c8f"/>
<circle cx="317.4" cy="688.2" r="4.4" fill="#3f6fb0"/>
<circle cx="339.8" cy="709.1" r="4.4" fill="#674c8f"/>
<circle cx="317.4" cy="692.2" r="4.4" fill="#3f6fb0"/>
<circle cx="339.8" cy="696.2" r="4.4" fill="#674c8f"/>
<circle cx="317.4" cy="696.2" r="4.4" fill="#3f6fb0"/>
<circle cx="339.8" cy="717.1" r="4.4" fill="#674c8f"/>
<circle cx="317.4" cy="700.1" r="4.4" fill="#3f6fb0"/>
<circle cx="339.8" cy="694.2" r="4.4" fill="#674c8f"/>
<circle cx="317.4" cy="704.1" r="4.4" fill="#3f6fb0"/>
<circle cx="339.8" cy="711.1" r="4.4" fill="#674c8f"/>
<circle cx="317.4" cy="709.1" r="4.4" fill="#3f6fb0"/>
<circle cx="339.8" cy="714.1" r="4.4" fill="#674c8f"/>
<circle cx="317.4" cy="714.1" r="4.4" fill="#3f6fb0"/>
<circle cx="339.8" cy="720.1" r="4.4" fill="#674c8f"/>
<circle cx="317.4" cy="711.1" r="4.4" fill="#3f6fb0"/>
<circle cx="339.8" cy="698.1" r="4.4" fill="#674c8f"/>
<circle cx="379.1" cy="648.8" r="4.4" fill="#3f6fb0"/>
<circle cx="401.4" cy="648.8" r="4.4" fill="#674c8f"/>
<circle cx="379.1" cy="650.3" r="4.4" fill="#3f6fb0"/>
<circle cx="401.4" cy="680.7" r="4.4" fill="#674c8f"/>
<circle cx="379.1" cy="682.7" r="4.4" fill="#3f6fb0"/>
<circle cx="401.4" cy="570.7" r="4.4" fill="#674c8f"/>
<circle cx="379.1" cy="686.2" r="4.4" fill="#3f6fb0"/>
<circle cx="401.4" cy="654.3" r="4.4" fill="#674c8f"/>
<circle cx="379.1" cy="691.2" r="4.4" fill="#3f6fb0"/>
<circle cx="401.4" cy="706.6" r="4.4" fill="#674c8f"/>
<circle cx="379.1" cy="695.2" r="4.4" fill="#3f6fb0"/>
<circle cx="401.4" cy="695.7" r="4.4" fill="#674c8f"/>
<circle cx="379.1" cy="699.1" r="4.4" fill="#3f6fb0"/>
<circle cx="401.4" cy="680.7" r="4.4" fill="#674c8f"/>
<circle cx="379.1" cy="714.1" r="4.4" fill="#3f6fb0"/>
<circle cx="401.4" cy="716.1" r="4.4" fill="#674c8f"/>
<circle cx="379.1" cy="719.1" r="4.4" fill="#3f6fb0"/>
<circle cx="401.4" cy="727.0" r="4.4" fill="#674c8f"/>
<circle cx="379.1" cy="725.0" r="4.4" fill="#3f6fb0"/>
<circle cx="401.4" cy="720.1" r="4.4" fill="#674c8f"/>
<circle cx="379.1" cy="722.0" r="4.4" fill="#3f6fb0"/>
<circle cx="401.4" cy="724.0" r="4.4" fill="#674c8f"/>
<circle cx="440.7" cy="670.3" r="4.4" fill="#3f6fb0"/>
<circle cx="463.1" cy="686.2" r="4.4" fill="#674c8f"/>
<circle cx="440.7" cy="674.2" r="4.4" fill="#3f6fb0"/>
<circle cx="463.1" cy="633.4" r="4.4" fill="#674c8f"/>
<circle cx="440.7" cy="688.2" r="4.4" fill="#3f6fb0"/>
<circle cx="463.1" cy="664.3" r="4.4" fill="#674c8f"/>
<circle cx="440.7" cy="692.2" r="4.4" fill="#3f6fb0"/>
<circle cx="463.1" cy="669.3" r="4.4" fill="#674c8f"/>
<circle cx="440.7" cy="696.2" r="4.4" fill="#3f6fb0"/>
<circle cx="463.1" cy="711.1" r="4.4" fill="#674c8f"/>
<circle cx="440.7" cy="701.1" r="4.4" fill="#3f6fb0"/>
<circle cx="463.1" cy="674.2" r="4.4" fill="#674c8f"/>
<circle cx="440.7" cy="706.1" r="4.4" fill="#3f6fb0"/>
<circle cx="463.1" cy="680.2" r="4.4" fill="#674c8f"/>
<circle cx="440.7" cy="711.1" r="4.4" fill="#3f6fb0"/>
<circle cx="463.1" cy="705.6" r="4.4" fill="#674c8f"/>
<circle cx="440.7" cy="716.1" r="4.4" fill="#3f6fb0"/>
<circle cx="463.1" cy="727.0" r="4.4" fill="#674c8f"/>
<circle cx="440.7" cy="722.0" r="4.4" fill="#3f6fb0"/>
<circle cx="463.1" cy="716.1" r="4.4" fill="#674c8f"/>
<circle cx="440.7" cy="727.0" r="4.4" fill="#3f6fb0"/>
<circle cx="463.1" cy="722.0" r="4.4" fill="#674c8f"/>
<circle cx="440.7" cy="694.2" r="4.4" fill="#3f6fb0"/>
<circle cx="463.1" cy="686.2" r="4.4" fill="#674c8f"/>
<circle cx="502.3" cy="708.6" r="4.4" fill="#3f6fb0"/>
<circle cx="524.8" cy="728.0" r="4.4" fill="#674c8f"/>
<circle cx="502.3" cy="723.0" r="4.4" fill="#3f6fb0"/>
<circle cx="524.8" cy="719.6" r="4.4" fill="#674c8f"/>
<circle cx="502.3" cy="726.0" r="4.4" fill="#3f6fb0"/>
<circle cx="524.8" cy="725.0" r="4.4" fill="#674c8f"/>
<circle cx="502.3" cy="729.0" r="4.4" fill="#3f6fb0"/>
<circle cx="524.8" cy="722.0" r="4.4" fill="#674c8f"/>
<circle cx="502.3" cy="732.0" r="4.4" fill="#3f6fb0"/>
<circle cx="524.8" cy="731.0" r="4.4" fill="#674c8f"/>
<circle cx="502.3" cy="734.0" r="4.4" fill="#3f6fb0"/>
<circle cx="524.8" cy="734.0" r="4.4" fill="#674c8f"/>
<circle cx="564.0" cy="702.1" r="4.4" fill="#3f6fb0"/>
<circle cx="586.4" cy="714.1" r="4.4" fill="#674c8f"/>
<circle cx="564.0" cy="704.1" r="4.4" fill="#3f6fb0"/>
<circle cx="586.4" cy="699.1" r="4.4" fill="#674c8f"/>
<circle cx="564.0" cy="706.6" r="4.4" fill="#3f6fb0"/>
<circle cx="586.4" cy="724.0" r="4.4" fill="#674c8f"/>
<circle cx="564.0" cy="727.0" r="4.4" fill="#3f6fb0"/>
<circle cx="586.4" cy="704.1" r="4.4" fill="#674c8f"/>
<circle cx="564.0" cy="729.0" r="4.4" fill="#3f6fb0"/>
<circle cx="586.4" cy="709.1" r="4.4" fill="#674c8f"/>
<circle cx="564.0" cy="731.0" r="4.4" fill="#3f6fb0"/>
<circle cx="586.4" cy="719.1" r="4.4" fill="#674c8f"/>
<circle cx="564.0" cy="733.0" r="4.4" fill="#3f6fb0"/>
<circle cx="586.4" cy="729.0" r="4.4" fill="#674c8f"/>
<circle cx="564.0" cy="734.0" r="4.4" fill="#3f6fb0"/>
<circle cx="586.4" cy="734.0" r="4.4" fill="#674c8f"/>
<circle cx="625.6" cy="707.6" r="4.4" fill="#3f6fb0"/>
<circle cx="648.1" cy="728.0" r="4.4" fill="#674c8f"/>
<circle cx="625.6" cy="721.1" r="4.4" fill="#3f6fb0"/>
<circle cx="648.1" cy="559.2" r="4.4" fill="#674c8f"/>
<circle cx="625.6" cy="724.0" r="4.4" fill="#3f6fb0"/>
<circle cx="648.1" cy="708.6" r="4.4" fill="#674c8f"/>
<circle cx="625.6" cy="727.0" r="4.4" fill="#3f6fb0"/>
<circle cx="648.1" cy="717.6" r="4.4" fill="#674c8f"/>
<circle cx="625.6" cy="730.0" r="4.4" fill="#3f6fb0"/>
<circle cx="648.1" cy="731.0" r="4.4" fill="#674c8f"/>
<circle cx="625.6" cy="733.0" r="4.4" fill="#3f6fb0"/>
<circle cx="648.1" cy="734.0" r="4.4" fill="#674c8f"/>
<circle cx="625.6" cy="734.0" r="4.4" fill="#3f6fb0"/>
<circle cx="648.1" cy="714.1" r="4.4" fill="#674c8f"/>
<circle cx="687.3" cy="623.6" r="4.4" fill="#3f6fb0"/>
<circle cx="709.7" cy="645.9" r="4.4" fill="#674c8f"/>
<circle cx="687.3" cy="646.7" r="4.4" fill="#3f6fb0"/>
<circle cx="709.7" cy="627.4" r="4.4" fill="#674c8f"/>
<circle cx="687.3" cy="674.2" r="4.4" fill="#3f6fb0"/>
<circle cx="709.7" cy="675.2" r="4.4" fill="#674c8f"/>
<circle cx="687.3" cy="708.6" r="4.4" fill="#3f6fb0"/>
<circle cx="709.7" cy="680.2" r="4.4" fill="#674c8f"/>
<circle cx="687.3" cy="712.1" r="4.4" fill="#3f6fb0"/>
<circle cx="709.7" cy="686.2" r="4.4" fill="#674c8f"/>
<circle cx="687.3" cy="716.1" r="4.4" fill="#3f6fb0"/>
<circle cx="709.7" cy="715.1" r="4.4" fill="#674c8f"/>
<circle cx="687.3" cy="720.1" r="4.4" fill="#3f6fb0"/>
<circle cx="709.7" cy="691.2" r="4.4" fill="#674c8f"/>
<circle cx="687.3" cy="724.0" r="4.4" fill="#3f6fb0"/>
<circle cx="709.7" cy="695.7" r="4.4" fill="#674c8f"/>
<circle cx="687.3" cy="728.5" r="4.4" fill="#3f6fb0"/>
<circle cx="709.7" cy="729.0" r="4.4" fill="#674c8f"/>
<circle cx="687.3" cy="718.1" r="4.4" fill="#3f6fb0"/>
<circle cx="709.7" cy="733.0" r="4.4" fill="#674c8f"/>
<circle cx="687.3" cy="714.1" r="4.4" fill="#3f6fb0"/>
<circle cx="709.7" cy="678.2" r="4.4" fill="#674c8f"/>
<path d="M194.1 527.3L216.5 572.1M194.1 567.2L216.5 543.8M194.1 609.5L216.5 682.7M194.1 614.5L216.5 630.9M194.1 621.5L216.5 644.9M194.1 627.4L216.5 607.0M194.1 631.9L216.5 630.9M194.1 643.9L216.5 579.6M194.1 659.6L216.5 608.5M194.1 682.7L216.5 630.9M194.1 734.0L216.5 734.0M194.1 636.4L216.5 644.9M255.8 654.8L278.1 664.3M255.8 658.3L278.1 641.9M255.8 662.3L278.1 678.2M255.8 666.3L278.1 651.3M255.8 670.3L278.1 670.3M255.8 674.2L278.1 657.3M255.8 678.2L278.1 684.2M255.8 684.2L278.1 662.3M255.8 690.2L278.1 695.2M255.8 702.1L278.1 674.2M255.8 680.2L278.1 700.1M317.4 653.3L339.8 675.2M317.4 679.2L339.8 675.2M317.4 684.2L339.8 692.2M317.4 688.2L339.8 709.1M317.4 692.2L339.8 696.2M317.4 696.2L339.8 717.1M317.4 700.1L339.8 694.2M317.4 704.1L339.8 711.1M317.4 709.1L339.8 714.1M317.4 714.1L339.8 720.1M317.4 711.1L339.8 698.1M379.1 648.8L401.4 648.8M379.1 650.3L401.4 680.7M379.1 682.7L401.4 570.7M379.1 686.2L401.4 654.3M379.1 691.2L401.4 706.6M379.1 695.2L401.4 695.7M379.1 699.1L401.4 680.7M379.1 714.1L401.4 716.1M379.1 719.1L401.4 727.0M379.1 725.0L401.4 720.1M379.1 722.0L401.4 724.0M440.7 670.3L463.1 686.2M440.7 674.2L463.1 633.4M440.7 688.2L463.1 664.3M440.7 692.2L463.1 669.3M440.7 696.2L463.1 711.1M440.7 701.1L463.1 674.2M440.7 706.1L463.1 680.2M440.7 711.1L463.1 705.6M440.7 716.1L463.1 727.0M440.7 722.0L463.1 716.1M440.7 727.0L463.1 722.0M440.7 694.2L463.1 686.2M502.3 708.6L524.8 728.0M502.3 723.0L524.8 719.6M502.3 726.0L524.8 725.0M502.3 729.0L524.8 722.0M502.3 732.0L524.8 731.0M502.3 734.0L524.8 734.0M564.0 702.1L586.4 714.1M564.0 704.1L586.4 699.1M564.0 706.6L586.4 724.0M564.0 727.0L586.4 704.1M564.0 729.0L586.4 709.1M564.0 731.0L586.4 719.1M564.0 733.0L586.4 729.0M564.0 734.0L586.4 734.0M625.6 707.6L648.1 728.0M625.6 721.1L648.1 559.2M625.6 724.0L648.1 708.6M625.6 727.0L648.1 717.6M625.6 730.0L648.1 731.0M625.6 733.0L648.1 734.0M625.6 734.0L648.1 714.1M687.3 623.6L709.7 645.9M687.3 646.7L709.7 627.4M687.3 674.2L709.7 675.2M687.3 708.6L709.7 680.2M687.3 712.1L709.7 686.2M687.3 716.1L709.7 715.1M687.3 720.1L709.7 691.2M687.3 724.0L709.7 695.7M687.3 728.5L709.7 729.0M687.3 718.1L709.7 733.0M687.3 714.1L709.7 678.2" stroke="#141414" stroke-width="1.45" fill="none" stroke-linecap="round"/>
<path d="M1105.3 225.5V650.8" stroke="#484848" stroke-width="3.7" fill="none"/>
<path d="M1088.3 649.3H1485" stroke="#404040" stroke-width="3.7" fill="none"/>
<path d="M1088.3 508.6H1105.3" stroke="#484848" stroke-width="3.5"/>
<path d="M1088.3 367.9H1105.3" stroke="#484848" stroke-width="3.5"/>
<path d="M1088.3 227.2H1105.3" stroke="#484848" stroke-width="3.5"/>
<path d="M1138.7 649.3V667.5" stroke="#484848" stroke-width="3.5"/>
<path d="M1190.2 649.3V667.5" stroke="#484848" stroke-width="3.5"/>
<path d="M1242.3 649.3V667.5" stroke="#484848" stroke-width="3.5"/>
<path d="M1293.6 649.3V667.5" stroke="#484848" stroke-width="3.5"/>
<path d="M1346.7 649.3V667.5" stroke="#484848" stroke-width="3.5"/>
<path d="M1399.0 649.3V667.5" stroke="#484848" stroke-width="3.5"/>
<path d="M1450.3 649.3V667.5" stroke="#484848" stroke-width="3.5"/>
<circle cx="1137.2" cy="542.3" r="4.4" fill="#5d4a8a"/>
<circle cx="1135.9" cy="546.5" r="4.4" fill="#5d4a8a"/>
<circle cx="1136.9" cy="550.2" r="4.4" fill="#5d4a8a"/>
<circle cx="1135.1" cy="555.4" r="4.4" fill="#5d4a8a"/>
<circle cx="1141.5" cy="555.2" r="4.4" fill="#5d4a8a"/>
<circle cx="1133.4" cy="560.2" r="4.4" fill="#5d4a8a"/>
<circle cx="1138.1" cy="559.6" r="4.4" fill="#5d4a8a"/>
<circle cx="1144.4" cy="559.8" r="4.4" fill="#5d4a8a"/>
<circle cx="1130.0" cy="565.6" r="4.4" fill="#5d4a8a"/>
<circle cx="1137.6" cy="564.9" r="4.4" fill="#5d4a8a"/>
<circle cx="1142.7" cy="564.3" r="4.4" fill="#5d4a8a"/>
<circle cx="1148.0" cy="564.7" r="4.4" fill="#5d4a8a"/>
<circle cx="1127.3" cy="569.5" r="4.4" fill="#5d4a8a"/>
<circle cx="1133.1" cy="568.2" r="4.4" fill="#5d4a8a"/>
<circle cx="1140.5" cy="569.0" r="4.4" fill="#5d4a8a"/>
<circle cx="1145.1" cy="569.1" r="4.4" fill="#5d4a8a"/>
<circle cx="1150.8" cy="569.0" r="4.4" fill="#5d4a8a"/>
<circle cx="1131.6" cy="573.6" r="4.4" fill="#5d4a8a"/>
<circle cx="1137.1" cy="572.6" r="4.4" fill="#5d4a8a"/>
<circle cx="1142.5" cy="572.5" r="4.4" fill="#5d4a8a"/>
<circle cx="1149.2" cy="573.1" r="4.4" fill="#5d4a8a"/>
<circle cx="1128.2" cy="576.7" r="4.4" fill="#5d4a8a"/>
<circle cx="1133.2" cy="577.5" r="4.4" fill="#5d4a8a"/>
<circle cx="1140.6" cy="577.6" r="4.4" fill="#5d4a8a"/>
<circle cx="1146.3" cy="577.5" r="4.4" fill="#5d4a8a"/>
<circle cx="1152.1" cy="576.6" r="4.4" fill="#5d4a8a"/>
<circle cx="1130.7" cy="580.8" r="4.4" fill="#5d4a8a"/>
<circle cx="1135.9" cy="580.2" r="4.4" fill="#5d4a8a"/>
<circle cx="1142.3" cy="580.6" r="4.4" fill="#5d4a8a"/>
<circle cx="1149.0" cy="581.7" r="4.4" fill="#5d4a8a"/>
<circle cx="1127.6" cy="585.7" r="4.4" fill="#5d4a8a"/>
<circle cx="1134.6" cy="585.7" r="4.4" fill="#5d4a8a"/>
<circle cx="1139.5" cy="584.6" r="4.4" fill="#5d4a8a"/>
<circle cx="1145.2" cy="584.5" r="4.4" fill="#5d4a8a"/>
<circle cx="1151.2" cy="585.2" r="4.4" fill="#5d4a8a"/>
<circle cx="1130.4" cy="588.5" r="4.4" fill="#5d4a8a"/>
<circle cx="1135.7" cy="588.2" r="4.4" fill="#5d4a8a"/>
<circle cx="1142.2" cy="587.3" r="4.4" fill="#5d4a8a"/>
<circle cx="1148.0" cy="588.7" r="4.4" fill="#5d4a8a"/>
<circle cx="1127.2" cy="592.4" r="4.4" fill="#5d4a8a"/>
<circle cx="1132.7" cy="591.5" r="4.4" fill="#5d4a8a"/>
<circle cx="1139.2" cy="591.7" r="4.4" fill="#5d4a8a"/>
<circle cx="1145.2" cy="592.8" r="4.4" fill="#5d4a8a"/>
<circle cx="1150.5" cy="591.8" r="4.4" fill="#5d4a8a"/>
<circle cx="1130.5" cy="596.4" r="4.4" fill="#5d4a8a"/>
<circle cx="1135.1" cy="595.4" r="4.4" fill="#5d4a8a"/>
<circle cx="1141.1" cy="596.6" r="4.4" fill="#5d4a8a"/>
<circle cx="1148.3" cy="595.4" r="4.4" fill="#5d4a8a"/>
<circle cx="1127.3" cy="600.8" r="4.4" fill="#5d4a8a"/>
<circle cx="1133.0" cy="599.8" r="4.4" fill="#5d4a8a"/>
<circle cx="1138.8" cy="599.4" r="4.4" fill="#5d4a8a"/>
<circle cx="1143.8" cy="600.8" r="4.4" fill="#5d4a8a"/>
<circle cx="1151.0" cy="600.0" r="4.4" fill="#5d4a8a"/>
<circle cx="1130.5" cy="603.9" r="4.4" fill="#5d4a8a"/>
<circle cx="1136.4" cy="604.5" r="4.4" fill="#5d4a8a"/>
<circle cx="1141.2" cy="603.6" r="4.4" fill="#5d4a8a"/>
<circle cx="1147.3" cy="603.6" r="4.4" fill="#5d4a8a"/>
<circle cx="1126.9" cy="607.6" r="4.4" fill="#5d4a8a"/>
<circle cx="1132.6" cy="607.4" r="4.4" fill="#5d4a8a"/>
<circle cx="1139.4" cy="607.8" r="4.4" fill="#5d4a8a"/>
<circle cx="1144.6" cy="608.1" r="4.4" fill="#5d4a8a"/>
<circle cx="1151.4" cy="607.9" r="4.4" fill="#5d4a8a"/>
<circle cx="1135.5" cy="612.0" r="4.4" fill="#5d4a8a"/>
<circle cx="1140.8" cy="612.0" r="4.4" fill="#5d4a8a"/>
<circle cx="1136.8" cy="615.9" r="4.4" fill="#5d4a8a"/>
<circle cx="1134.1" cy="619.2" r="4.4" fill="#5d4a8a"/>
<circle cx="1141.2" cy="619.5" r="4.4" fill="#5d4a8a"/>
<circle cx="1136.0" cy="624.1" r="4.4" fill="#5d4a8a"/>
<circle cx="1135.1" cy="628.1" r="4.4" fill="#5d4a8a"/>
<circle cx="1136.0" cy="632.1" r="4.4" fill="#5d4a8a"/>
<circle cx="1138.7" cy="415.8" r="4.3" fill="#4d4957"/>
<circle cx="1138.7" cy="466.9" r="4.3" fill="#5d4a8a"/>
<circle cx="1138.7" cy="477.2" r="4.3" fill="#5d4a8a"/>
<circle cx="1138.7" cy="496.0" r="4.3" fill="#5d4a8a"/>
<circle cx="1138.7" cy="501.0" r="4.3" fill="#5d4a8a"/>
<circle cx="1138.7" cy="515.4" r="4.3" fill="#5d4a8a"/>
<circle cx="1188.9" cy="566.4" r="4.4" fill="#5d4a8a"/>
<circle cx="1190.5" cy="570.4" r="4.4" fill="#5d4a8a"/>
<circle cx="1192.3" cy="574.2" r="4.4" fill="#5d4a8a"/>
<circle cx="1190.4" cy="578.3" r="4.4" fill="#5d4a8a"/>
<circle cx="1190.2" cy="582.0" r="4.4" fill="#5d4a8a"/>
<circle cx="1193.2" cy="586.6" r="4.4" fill="#5d4a8a"/>
<circle cx="1192.5" cy="590.1" r="4.4" fill="#5d4a8a"/>
<circle cx="1193.6" cy="593.4" r="4.4" fill="#5d4a8a"/>
<circle cx="1188.0" cy="597.3" r="4.4" fill="#5d4a8a"/>
<circle cx="1188.0" cy="602.3" r="4.4" fill="#5d4a8a"/>
<circle cx="1190.9" cy="606.6" r="4.4" fill="#5d4a8a"/>
<circle cx="1186.8" cy="610.3" r="4.4" fill="#5d4a8a"/>
<circle cx="1193.7" cy="609.4" r="4.4" fill="#5d4a8a"/>
<circle cx="1185.1" cy="614.7" r="4.4" fill="#5d4a8a"/>
<circle cx="1189.9" cy="614.7" r="4.4" fill="#5d4a8a"/>
<circle cx="1196.2" cy="614.0" r="4.4" fill="#5d4a8a"/>
<circle cx="1182.3" cy="623.5" r="4.4" fill="#5d4a8a"/>
<circle cx="1186.8" cy="622.9" r="4.4" fill="#5d4a8a"/>
<circle cx="1193.4" cy="622.7" r="4.4" fill="#5d4a8a"/>
<circle cx="1198.9" cy="622.7" r="4.4" fill="#5d4a8a"/>
<circle cx="1184.8" cy="626.2" r="4.4" fill="#5d4a8a"/>
<circle cx="1190.5" cy="626.9" r="4.4" fill="#5d4a8a"/>
<circle cx="1195.5" cy="626.7" r="4.4" fill="#5d4a8a"/>
<circle cx="1181.6" cy="631.0" r="4.4" fill="#5d4a8a"/>
<circle cx="1186.6" cy="631.8" r="4.4" fill="#5d4a8a"/>
<circle cx="1193.9" cy="631.8" r="4.4" fill="#5d4a8a"/>
<circle cx="1198.7" cy="630.6" r="4.4" fill="#5d4a8a"/>
<circle cx="1177.6" cy="635.4" r="4.4" fill="#5d4a8a"/>
<circle cx="1184.0" cy="634.4" r="4.4" fill="#5d4a8a"/>
<circle cx="1190.3" cy="635.7" r="4.4" fill="#5d4a8a"/>
<circle cx="1197.0" cy="634.6" r="4.4" fill="#5d4a8a"/>
<circle cx="1201.8" cy="635.7" r="4.4" fill="#5d4a8a"/>
<circle cx="1181.5" cy="639.3" r="4.4" fill="#5d4a8a"/>
<circle cx="1186.7" cy="638.3" r="4.4" fill="#5d4a8a"/>
<circle cx="1193.7" cy="638.9" r="4.4" fill="#5d4a8a"/>
<circle cx="1198.6" cy="639.7" r="4.4" fill="#5d4a8a"/>
<circle cx="1178.6" cy="643.5" r="4.4" fill="#5d4a8a"/>
<circle cx="1183.7" cy="643.6" r="4.4" fill="#5d4a8a"/>
<circle cx="1189.6" cy="643.6" r="4.4" fill="#5d4a8a"/>
<circle cx="1196.3" cy="642.7" r="4.4" fill="#5d4a8a"/>
<circle cx="1202.5" cy="643.7" r="4.4" fill="#5d4a8a"/>
<circle cx="1181.0" cy="646.4" r="4.4" fill="#5d4a8a"/>
<circle cx="1187.4" cy="646.6" r="4.4" fill="#5d4a8a"/>
<circle cx="1192.7" cy="646.5" r="4.4" fill="#5d4a8a"/>
<circle cx="1198.6" cy="646.5" r="4.4" fill="#5d4a8a"/>
<circle cx="1178.1" cy="650.7" r="4.4" fill="#5d4a8a"/>
<circle cx="1184.9" cy="650.7" r="4.4" fill="#5d4a8a"/>
<circle cx="1190.4" cy="650.5" r="4.4" fill="#5d4a8a"/>
<circle cx="1196.1" cy="650.2" r="4.4" fill="#5d4a8a"/>
<circle cx="1202.0" cy="650.2" r="4.4" fill="#5d4a8a"/>
<circle cx="1190.4" cy="550.0" r="4.3" fill="#4d4957"/>
<circle cx="1243.5" cy="584.5" r="4.4" fill="#5d4a8a"/>
<circle cx="1243.5" cy="588.4" r="4.4" fill="#5d4a8a"/>
<circle cx="1243.7" cy="593.0" r="4.4" fill="#5d4a8a"/>
<circle cx="1240.4" cy="597.8" r="4.4" fill="#5d4a8a"/>
<circle cx="1245.8" cy="598.3" r="4.4" fill="#5d4a8a"/>
<circle cx="1243.7" cy="601.7" r="4.4" fill="#5d4a8a"/>
<circle cx="1240.4" cy="606.3" r="4.4" fill="#5d4a8a"/>
<circle cx="1246.0" cy="605.8" r="4.4" fill="#5d4a8a"/>
<circle cx="1242.5" cy="609.3" r="4.4" fill="#5d4a8a"/>
<circle cx="1239.1" cy="612.3" r="4.4" fill="#5d4a8a"/>
<circle cx="1246.2" cy="612.6" r="4.4" fill="#5d4a8a"/>
<circle cx="1236.2" cy="616.3" r="4.4" fill="#5d4a8a"/>
<circle cx="1243.4" cy="617.6" r="4.4" fill="#5d4a8a"/>
<circle cx="1249.1" cy="616.7" r="4.4" fill="#5d4a8a"/>
<circle cx="1239.3" cy="620.7" r="4.4" fill="#5d4a8a"/>
<circle cx="1245.7" cy="620.5" r="4.4" fill="#5d4a8a"/>
<circle cx="1236.7" cy="627.6" r="4.4" fill="#5d4a8a"/>
<circle cx="1243.6" cy="628.8" r="4.4" fill="#5d4a8a"/>
<circle cx="1248.9" cy="627.6" r="4.4" fill="#5d4a8a"/>
<circle cx="1234.6" cy="631.7" r="4.4" fill="#5d4a8a"/>
<circle cx="1239.5" cy="631.2" r="4.4" fill="#5d4a8a"/>
<circle cx="1245.6" cy="632.0" r="4.4" fill="#5d4a8a"/>
<circle cx="1251.8" cy="631.5" r="4.4" fill="#5d4a8a"/>
<circle cx="1236.8" cy="635.2" r="4.4" fill="#5d4a8a"/>
<circle cx="1242.4" cy="635.3" r="4.4" fill="#5d4a8a"/>
<circle cx="1248.6" cy="635.3" r="4.4" fill="#5d4a8a"/>
<circle cx="1232.9" cy="639.7" r="4.4" fill="#5d4a8a"/>
<circle cx="1239.3" cy="640.1" r="4.4" fill="#5d4a8a"/>
<circle cx="1245.9" cy="640.4" r="4.4" fill="#5d4a8a"/>
<circle cx="1252.1" cy="640.3" r="4.4" fill="#5d4a8a"/>
<circle cx="1231.5" cy="643.8" r="4.4" fill="#5d4a8a"/>
<circle cx="1236.5" cy="644.8" r="4.4" fill="#5d4a8a"/>
<circle cx="1242.2" cy="644.4" r="4.4" fill="#5d4a8a"/>
<circle cx="1249.1" cy="643.3" r="4.4" fill="#5d4a8a"/>
<circle cx="1255.4" cy="644.6" r="4.4" fill="#5d4a8a"/>
<circle cx="1234.0" cy="648.4" r="4.4" fill="#5d4a8a"/>
<circle cx="1240.4" cy="647.4" r="4.4" fill="#5d4a8a"/>
<circle cx="1245.8" cy="648.0" r="4.4" fill="#5d4a8a"/>
<circle cx="1252.4" cy="648.5" r="4.4" fill="#5d4a8a"/>
<circle cx="1231.4" cy="652.1" r="4.4" fill="#5d4a8a"/>
<circle cx="1237.5" cy="652.3" r="4.4" fill="#5d4a8a"/>
<circle cx="1243.1" cy="651.6" r="4.4" fill="#5d4a8a"/>
<circle cx="1248.0" cy="651.4" r="4.4" fill="#5d4a8a"/>
<circle cx="1254.5" cy="651.4" r="4.4" fill="#5d4a8a"/>
<circle cx="1294.4" cy="629.2" r="4.4" fill="#5d4a8a"/>
<circle cx="1294.2" cy="633.0" r="4.4" fill="#5d4a8a"/>
<circle cx="1293.1" cy="637.4" r="4.4" fill="#5d4a8a"/>
<circle cx="1284.6" cy="640.1" r="4.4" fill="#5d4a8a"/>
<circle cx="1290.9" cy="639.3" r="4.4" fill="#5d4a8a"/>
<circle cx="1297.0" cy="639.6" r="4.4" fill="#5d4a8a"/>
<circle cx="1301.8" cy="639.6" r="4.4" fill="#5d4a8a"/>
<circle cx="1288.0" cy="643.5" r="4.4" fill="#5d4a8a"/>
<circle cx="1294.0" cy="644.8" r="4.4" fill="#5d4a8a"/>
<circle cx="1299.6" cy="643.8" r="4.4" fill="#5d4a8a"/>
<circle cx="1284.6" cy="648.3" r="4.4" fill="#5d4a8a"/>
<circle cx="1291.1" cy="648.2" r="4.4" fill="#5d4a8a"/>
<circle cx="1296.9" cy="647.3" r="4.4" fill="#5d4a8a"/>
<circle cx="1302.0" cy="647.6" r="4.4" fill="#5d4a8a"/>
<circle cx="1282.0" cy="651.7" r="4.4" fill="#5d4a8a"/>
<circle cx="1287.7" cy="651.2" r="4.4" fill="#5d4a8a"/>
<circle cx="1292.8" cy="651.6" r="4.4" fill="#5d4a8a"/>
<circle cx="1299.9" cy="652.3" r="4.4" fill="#5d4a8a"/>
<circle cx="1305.9" cy="651.7" r="4.4" fill="#5d4a8a"/>
<circle cx="1293.6" cy="570.8" r="4.3" fill="#4d4957"/>
<circle cx="1346.7" cy="636.9" r="4.4" fill="#5d4a8a"/>
<circle cx="1337.6" cy="641.4" r="4.4" fill="#5d4a8a"/>
<circle cx="1344.4" cy="641.5" r="4.4" fill="#5d4a8a"/>
<circle cx="1350.6" cy="642.7" r="4.4" fill="#5d4a8a"/>
<circle cx="1354.8" cy="641.9" r="4.4" fill="#5d4a8a"/>
<circle cx="1341.3" cy="646.7" r="4.4" fill="#5d4a8a"/>
<circle cx="1346.6" cy="645.6" r="4.4" fill="#5d4a8a"/>
<circle cx="1352.2" cy="646.7" r="4.4" fill="#5d4a8a"/>
<circle cx="1337.2" cy="650.1" r="4.4" fill="#5d4a8a"/>
<circle cx="1343.1" cy="650.0" r="4.4" fill="#5d4a8a"/>
<circle cx="1350.5" cy="649.4" r="4.4" fill="#5d4a8a"/>
<circle cx="1356.3" cy="650.0" r="4.4" fill="#5d4a8a"/>
<circle cx="1400.1" cy="627.6" r="4.4" fill="#5d4a8a"/>
<circle cx="1399.8" cy="631.2" r="4.4" fill="#5d4a8a"/>
<circle cx="1398.0" cy="635.9" r="4.4" fill="#5d4a8a"/>
<circle cx="1389.6" cy="639.4" r="4.4" fill="#5d4a8a"/>
<circle cx="1395.7" cy="639.7" r="4.4" fill="#5d4a8a"/>
<circle cx="1402.6" cy="639.2" r="4.4" fill="#5d4a8a"/>
<circle cx="1408.5" cy="640.5" r="4.4" fill="#5d4a8a"/>
<circle cx="1392.3" cy="644.7" r="4.4" fill="#5d4a8a"/>
<circle cx="1399.4" cy="644.6" r="4.4" fill="#5d4a8a"/>
<circle cx="1404.6" cy="643.8" r="4.4" fill="#5d4a8a"/>
<circle cx="1389.8" cy="648.8" r="4.4" fill="#5d4a8a"/>
<circle cx="1396.2" cy="647.8" r="4.4" fill="#5d4a8a"/>
<circle cx="1401.9" cy="647.6" r="4.4" fill="#5d4a8a"/>
<circle cx="1407.2" cy="647.4" r="4.4" fill="#5d4a8a"/>
<circle cx="1387.6" cy="651.7" r="4.4" fill="#5d4a8a"/>
<circle cx="1393.8" cy="651.6" r="4.4" fill="#5d4a8a"/>
<circle cx="1398.6" cy="652.0" r="4.4" fill="#5d4a8a"/>
<circle cx="1404.4" cy="651.8" r="4.4" fill="#5d4a8a"/>
<circle cx="1411.8" cy="652.6" r="4.4" fill="#5d4a8a"/>
<circle cx="1399.0" cy="613.7" r="4.3" fill="#4d4957"/>
<circle cx="1451.4" cy="602.7" r="4.4" fill="#5d4a8a"/>
<circle cx="1451.7" cy="606.4" r="4.4" fill="#5d4a8a"/>
<circle cx="1449.4" cy="609.9" r="4.4" fill="#5d4a8a"/>
<circle cx="1451.3" cy="613.7" r="4.4" fill="#5d4a8a"/>
<circle cx="1449.6" cy="617.4" r="4.4" fill="#5d4a8a"/>
<circle cx="1449.9" cy="621.7" r="4.4" fill="#5d4a8a"/>
<circle cx="1452.0" cy="625.6" r="4.4" fill="#5d4a8a"/>
<circle cx="1447.6" cy="628.7" r="4.4" fill="#5d4a8a"/>
<circle cx="1453.4" cy="628.8" r="4.4" fill="#5d4a8a"/>
<circle cx="1443.7" cy="632.5" r="4.4" fill="#5d4a8a"/>
<circle cx="1449.8" cy="633.6" r="4.4" fill="#5d4a8a"/>
<circle cx="1456.3" cy="632.6" r="4.4" fill="#5d4a8a"/>
<circle cx="1448.0" cy="637.8" r="4.4" fill="#5d4a8a"/>
<circle cx="1453.2" cy="636.4" r="4.4" fill="#5d4a8a"/>
<circle cx="1443.7" cy="639.3" r="4.4" fill="#5d4a8a"/>
<circle cx="1450.0" cy="639.3" r="4.4" fill="#5d4a8a"/>
<circle cx="1455.8" cy="639.6" r="4.4" fill="#5d4a8a"/>
<circle cx="1441.4" cy="644.6" r="4.4" fill="#5d4a8a"/>
<circle cx="1447.7" cy="643.9" r="4.4" fill="#5d4a8a"/>
<circle cx="1453.1" cy="644.0" r="4.4" fill="#5d4a8a"/>
<circle cx="1459.1" cy="643.7" r="4.4" fill="#5d4a8a"/>
<circle cx="1437.5" cy="647.6" r="4.4" fill="#5d4a8a"/>
<circle cx="1445.1" cy="647.4" r="4.4" fill="#5d4a8a"/>
<circle cx="1450.3" cy="648.2" r="4.4" fill="#5d4a8a"/>
<circle cx="1457.0" cy="647.5" r="4.4" fill="#5d4a8a"/>
<circle cx="1461.9" cy="647.6" r="4.4" fill="#5d4a8a"/>
<circle cx="1441.1" cy="651.9" r="4.4" fill="#5d4a8a"/>
<circle cx="1448.1" cy="652.6" r="4.4" fill="#5d4a8a"/>
<circle cx="1454.0" cy="651.2" r="4.4" fill="#5d4a8a"/>
<circle cx="1458.5" cy="652.3" r="4.4" fill="#5d4a8a"/>
<circle cx="1450.3" cy="561.3" r="4.3" fill="#4d4957"/>
<path d="M1174 620H1207M1226.5 624.8H1259.5" stroke="#5d4a8a" stroke-width="2.2"/>
<path d="M1139.5 227.7V213.7H1440.1V227.7" stroke="#4a4a4a" stroke-width="3.7" fill="none"/>
<path d="M1139.5 264.4V250.4H1399.6V264.4" stroke="#4a4a4a" stroke-width="3.7" fill="none"/>
<path d="M1139.5 300.1V286.1H1345.9V300.1" stroke="#4a4a4a" stroke-width="3.7" fill="none"/>
<path d="M1139.5 337.5V323.5H1294.8V337.5" stroke="#4a4a4a" stroke-width="3.7" fill="none"/>
<path d="M1139.5 366.6V352.6H1231.1V366.6" stroke="#4a4a4a" stroke-width="3.7" fill="none"/>
<path d="M1139.5 404V390H1189.4V404" stroke="#4a4a4a" stroke-width="3.7" fill="none"/>
</g>
<g id="labels">
<text x="167.0" y="379.8" font-size="28" fill="#000" text-anchor="end" stroke="#000" stroke-width="0.3">0</text>
<text x="167.0" y="280.2" font-size="28" fill="#000" text-anchor="end" stroke="#000" stroke-width="0.3">2000</text>
<text x="167.0" y="180.6" font-size="28" fill="#000" text-anchor="end" stroke="#000" stroke-width="0.3">4000</text>
<text x="167.0" y="81.0" font-size="28" fill="#000" text-anchor="end" stroke="#000" stroke-width="0.3">6000</text>
<text x="167.0" y="745.4" font-size="28" fill="#000" text-anchor="end" stroke="#000" stroke-width="0.3">0</text>
<text x="167.0" y="645.8" font-size="28" fill="#000" text-anchor="end" stroke="#000" stroke-width="0.3">1000</text>
<text x="167.0" y="546.2" font-size="28" fill="#000" text-anchor="end" stroke="#000" stroke-width="0.3">2000</text>
<text x="167.0" y="446.6" font-size="28" fill="#000" text-anchor="end" stroke="#000" stroke-width="0.3">3000</text>
<text x="208.4" y="105.0" font-size="28" fill="#000" text-anchor="middle" stroke="#000" stroke-width="0.3">ns</text>
<text x="395.6" y="208.5" font-size="28" fill="#000" text-anchor="middle" stroke="#000" stroke-width="0.3">ns</text>
<text x="520.2" y="236.7" font-size="28" fill="#000" text-anchor="middle" stroke="#000" stroke-width="0.3">ns</text>
<text x="577.4" y="327.4" font-size="28" fill="#000" text-anchor="middle" stroke="#000" stroke-width="0.3">ns</text>
<text x="638.7" y="134.4" font-size="28" fill="#000" text-anchor="middle" stroke="#000" stroke-width="0.3">ns</text>
<text x="703.7" y="221.0" font-size="28" fill="#000" text-anchor="middle" stroke="#000" stroke-width="0.3">ns</text>
<text x="269.8" y="264.5" font-size="36" fill="#c00000" text-anchor="middle" stroke="#c00000" stroke-width="0.12">**</text>
<text x="330.3" y="225.8" font-size="36" fill="#c00000" text-anchor="middle" stroke="#c00000" stroke-width="0.12">**</text>
<text x="208.4" y="517.0" font-size="28" fill="#000" text-anchor="middle" stroke="#000" stroke-width="0.3">ns</text>
<text x="266.9" y="629.5" font-size="28" fill="#000" text-anchor="middle" stroke="#000" stroke-width="0.3">ns</text>
<text x="332.0" y="645.0" font-size="28" fill="#000" text-anchor="middle" stroke="#000" stroke-width="0.3">ns</text>
<text x="388.1" y="561.8" font-size="28" fill="#000" text-anchor="middle" stroke="#000" stroke-width="0.3">ns</text>
<text x="451.2" y="620.5" font-size="28" fill="#000" text-anchor="middle" stroke="#000" stroke-width="0.3">ns</text>
<text x="513.9" y="695.3" font-size="28" fill="#000" text-anchor="middle" stroke="#000" stroke-width="0.3">ns</text>
<text x="577.4" y="688.3" font-size="28" fill="#000" text-anchor="middle" stroke="#000" stroke-width="0.3">ns</text>
<text x="639.4" y="544.3" font-size="28" fill="#000" text-anchor="middle" stroke="#000" stroke-width="0.3">ns</text>
<text x="701.7" y="615.5" font-size="28" fill="#000" text-anchor="middle" stroke="#000" stroke-width="0.3">ns</text>
<circle cx="320.2" cy="52.5" r="10" fill="#3d6ba5"/>
<circle cx="320.2" cy="88.7" r="10" fill="#5a467f"/>
<text x="341.0" y="62.5" font-size="28" fill="#000" text-anchor="start" textLength="323.5" lengthAdjust="spacing" stroke="#000" stroke-width="0.3">paired nociceptive neuron</text>
<text x="667.0" y="53.9" font-size="22" fill="#000" text-anchor="start" textLength="50.0" lengthAdjust="spacingAndGlyphs" stroke="#000" stroke-width="0.3">poor</text>
<text x="341.0" y="98.2" font-size="28" fill="#000" text-anchor="start" textLength="236.5" lengthAdjust="spacing" stroke="#000" stroke-width="0.3">nociceptive neuron</text>
<text x="580.0" y="89.6" font-size="22" fill="#000" text-anchor="start" textLength="104.5" lengthAdjust="spacingAndGlyphs" stroke="#000" stroke-width="0.3">abundant</text>
<circle cx="317.2" cy="444.5" r="10" fill="#3d6ba5"/>
<circle cx="317.2" cy="481" r="10" fill="#5a467f"/>
<text x="337.8" y="455.0" font-size="28" fill="#000" text-anchor="start" textLength="332.0" lengthAdjust="spacing" stroke="#000" stroke-width="0.3">paired sympathetic neuron</text>
<text x="672.3" y="446.8" font-size="22" fill="#000" text-anchor="start" textLength="50.0" lengthAdjust="spacingAndGlyphs" stroke="#000" stroke-width="0.3">poor</text>
<text x="337.8" y="491.2" font-size="28" fill="#000" text-anchor="start" textLength="246.0" lengthAdjust="spacing" stroke="#000" stroke-width="0.3">sympathetic neuron</text>
<text x="586.3" y="481.4" font-size="22" fill="#000" text-anchor="start" textLength="104.5" lengthAdjust="spacingAndGlyphs" stroke="#000" stroke-width="0.3">abundant</text>
<text x="0" y="0" transform="translate(69.3,388.8) rotate(-90)" font-size="28" fill="#000" text-anchor="middle" textLength="288.5" lengthAdjust="spacing" stroke="#000" stroke-width="0.3">Cell numbers per region</text>
<text x="0" y="0" transform="translate(217.1,768.6) rotate(-35.5)" font-size="28.6" fill="#000" text-anchor="end" stroke="#000" stroke-width="0.3">M0-likeTAM</text>
<text x="0" y="0" transform="translate(278.8,768.6) rotate(-35.5)" font-size="28.6" fill="#c00000" text-anchor="end" stroke="#c00000" stroke-width="0.3">M1-likeTAM</text>
<text x="0" y="0" transform="translate(340.4,768.6) rotate(-35.5)" font-size="28.6" fill="#c00000" text-anchor="end" stroke="#c00000" stroke-width="0.3">M2-likeTAM</text>
<text x="0" y="0" transform="translate(402.1,768.6) rotate(-35.5)" font-size="28.6" fill="#000" text-anchor="end" stroke="#000" stroke-width="0.3">CD8+ T</text>
<text x="0" y="0" transform="translate(463.7,768.6) rotate(-35.5)" font-size="28.6" fill="#000" text-anchor="end" stroke="#000" stroke-width="0.3">CD4+ T</text>
<text x="0" y="0" transform="translate(525.3,768.6) rotate(-35.5)" font-size="28.6" fill="#000" text-anchor="end" stroke="#000" stroke-width="0.3">NK cell</text>
<text x="0" y="0" transform="translate(587.0,768.6) rotate(-35.5)" font-size="28.6" fill="#000" text-anchor="end" stroke="#000" stroke-width="0.3">Neutrophil</text>
<text x="0" y="0" transform="translate(648.6,768.6) rotate(-35.5)" font-size="28.6" fill="#000" text-anchor="end" stroke="#000" stroke-width="0.3">DC</text>
<text x="0" y="0" transform="translate(710.3,768.6) rotate(-35.5)" font-size="28.6" fill="#000" text-anchor="end" stroke="#000" stroke-width="0.3">B cell</text>
<text x="1082.5" y="665.1" font-size="39.5" fill="#000" text-anchor="end" stroke="#000" stroke-width="0.12">0</text>
<text x="1081.5" y="524.4" font-size="39.5" fill="#000" text-anchor="end" stroke="#000" stroke-width="0.12">4000</text>
<text x="1084.0" y="383.7" font-size="39.5" fill="#000" text-anchor="end" stroke="#000" stroke-width="0.12">8000</text>
<text x="1079.5" y="243.0" font-size="39.5" fill="#000" text-anchor="end" stroke="#000" stroke-width="0.12">12000</text>
<text x="1279.1" y="220.1" font-size="44.5" fill="#000" text-anchor="middle" textLength="58.0" lengthAdjust="spacingAndGlyphs" stroke="#000" stroke-width="0.3">***</text>
<text x="1272.3" y="257.0" font-size="44.5" fill="#000" text-anchor="middle" textLength="58.0" lengthAdjust="spacingAndGlyphs" stroke="#000" stroke-width="0.3">***</text>
<text x="1244.9" y="294.5" font-size="44.5" fill="#000" text-anchor="middle" textLength="58.0" lengthAdjust="spacingAndGlyphs" stroke="#000" stroke-width="0.3">***</text>
<text x="1217.1" y="328.3" font-size="44.5" fill="#000" text-anchor="middle" textLength="58.0" lengthAdjust="spacingAndGlyphs" stroke="#000" stroke-width="0.3">***</text>
<text x="1191.5" y="361.5" font-size="44.5" fill="#000" text-anchor="middle" textLength="58.0" lengthAdjust="spacingAndGlyphs" stroke="#000" stroke-width="0.3">***</text>
<text x="1170.0" y="399.4" font-size="44.5" fill="#000" text-anchor="middle" textLength="58.0" lengthAdjust="spacingAndGlyphs" stroke="#000" stroke-width="0.3">***</text>
<text x="952.0" y="148.0" font-size="39.5" fill="#000" text-anchor="start" textLength="333.0" lengthAdjust="spacing" stroke="#000" stroke-width="0.12">Nociceptive neuron</text>
<text x="1288.0" y="136.0" font-size="30" fill="#000" text-anchor="start" textLength="146.0" lengthAdjust="spacingAndGlyphs" stroke="#000" stroke-width="0.3">abundant</text>
<text x="1443.0" y="148.0" font-size="39.5" fill="#000" text-anchor="start" textLength="127.0" lengthAdjust="spacing" stroke="#000" stroke-width="0.12">regions</text>
<text x="0" y="0" transform="translate(912.0,427.5) rotate(-90)" font-size="39.5" fill="#000" text-anchor="middle" textLength="416.0" lengthAdjust="spacing" stroke="#000" stroke-width="0.12">Cell numbers per region</text>
<text x="0" y="0" transform="translate(1136.2,684.9) rotate(-42)" font-size="39.2" fill="#c00000" text-anchor="end" stroke="#c00000" stroke-width="0.12">TAM</text>
<text x="0" y="0" transform="translate(1199.0,687.0) rotate(-42)" font-size="39.2" fill="#000" text-anchor="end" textLength="140.0" lengthAdjust="spacing" stroke="#000" stroke-width="0.12">CD8+ T</text>
<text x="0" y="0" transform="translate(1267.1,689.5) rotate(-42)" font-size="39.2" fill="#000" text-anchor="end" textLength="140.0" lengthAdjust="spacing" stroke="#000" stroke-width="0.12">CD4+ T</text>
<text x="0" y="0" transform="translate(1311.1,693.7) rotate(-42)" font-size="39.2" fill="#000" text-anchor="end" stroke="#000" stroke-width="0.12">NK cell</text>
<text x="0" y="0" transform="translate(1368.5,688.0) rotate(-42)" font-size="39.2" fill="#000" text-anchor="end" stroke="#000" stroke-width="0.12">DC</text>
<text x="0" y="0" transform="translate(1411.8,693.7) rotate(-42)" font-size="39.2" fill="#000" text-anchor="end" stroke="#000" stroke-width="0.12">Neutrophil</text>
<text x="0" y="0" transform="translate(1473.2,692.4) rotate(-42)" font-size="39.2" fill="#000" text-anchor="end" stroke="#000" stroke-width="0.12">B cell</text>
</g></svg>
</body></html>
